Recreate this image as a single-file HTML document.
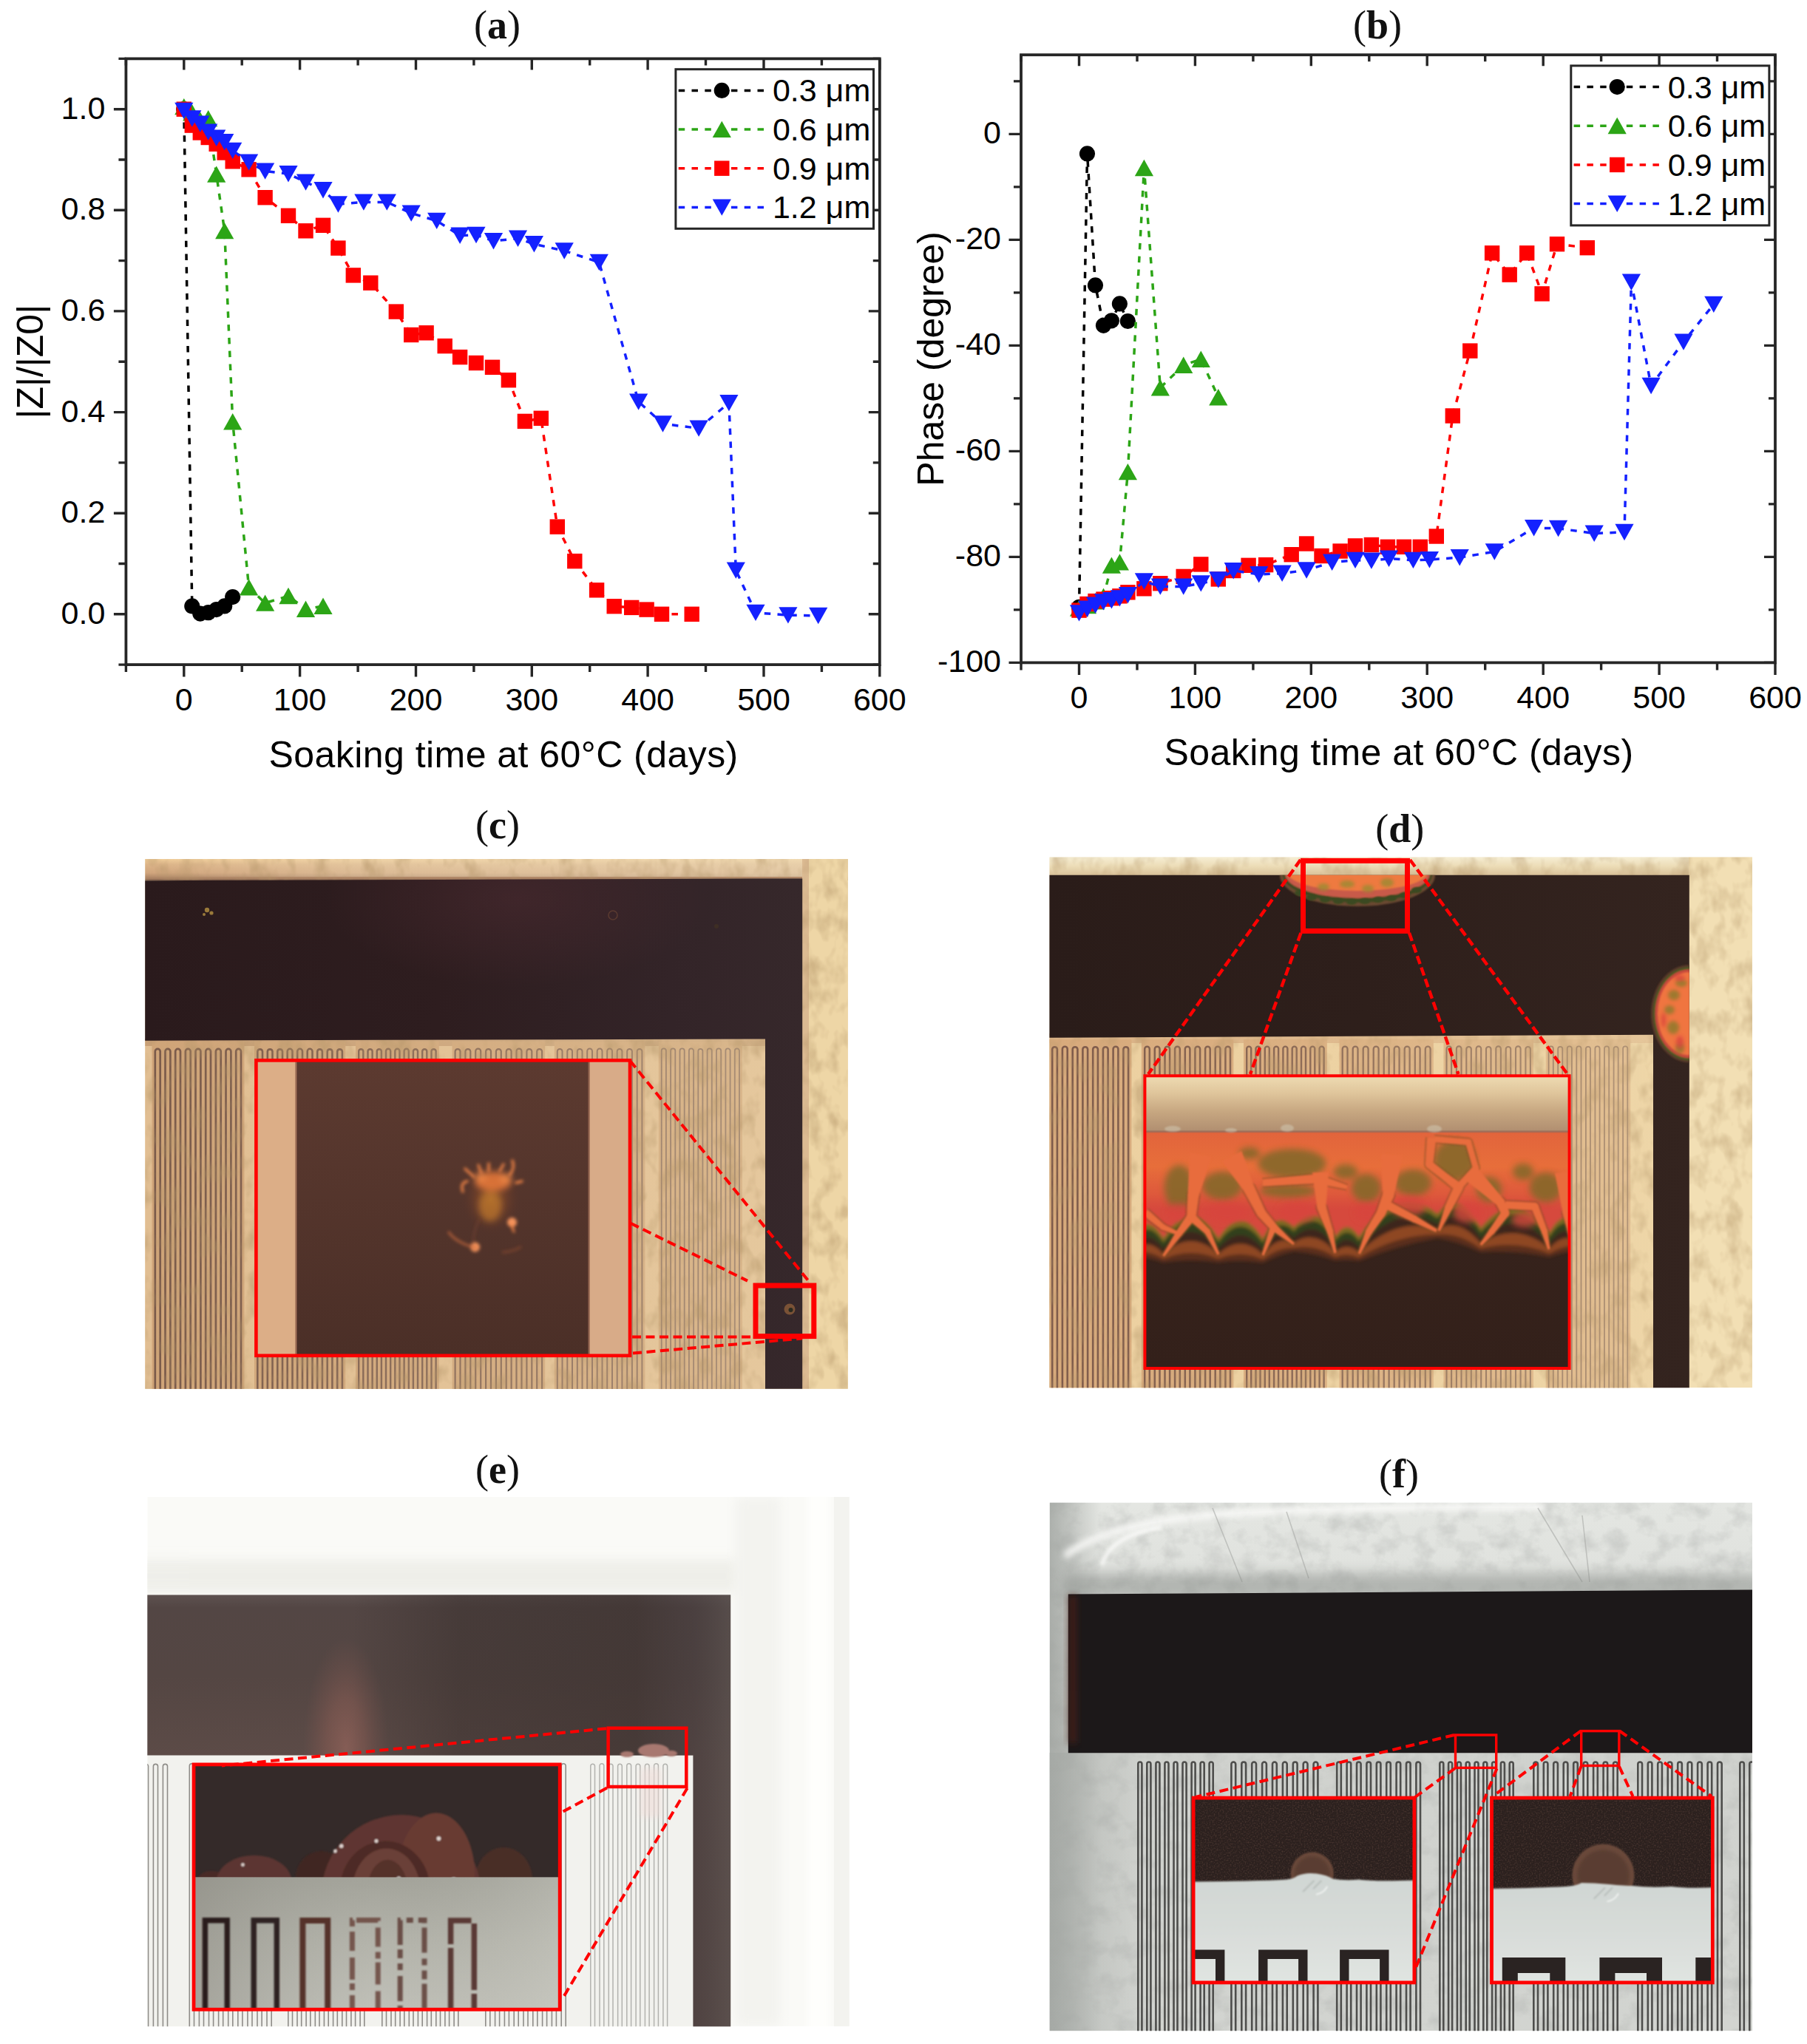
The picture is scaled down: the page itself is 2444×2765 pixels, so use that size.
<!DOCTYPE html>
<html lang="en"><head><meta charset="utf-8"><title>Figure</title>
<style>html,body{margin:0;padding:0;background:#fff}svg{display:block}</style></head>
<body>
<svg xmlns="http://www.w3.org/2000/svg" width="2444" height="2765" viewBox="0 0 2444 2765">
<rect width="2444" height="2765" fill="#fff"/>
<defs><filter id="streak" x="0" y="0" width="100%" height="100%"><feTurbulence type="fractalNoise" baseFrequency="0.045 0.03" numOctaves="3" seed="3" result="n"/><feColorMatrix in="n" type="matrix" values="0 0 0 0 0.45  0 0 0 0 0.30  0 0 0 0 0.14  0 0 0 -2.4 1.35"/><feComposite operator="in" in2="SourceGraphic"/></filter><filter id="marble" x="0" y="0" width="100%" height="100%"><feTurbulence type="fractalNoise" baseFrequency="0.035 0.04" numOctaves="4" seed="11" result="n"/><feColorMatrix in="n" type="matrix" values="0 0 0 0 0.35  0 0 0 0 0.36  0 0 0 0 0.35  0 0 0 -2.4 1.35"/><feComposite operator="in" in2="SourceGraphic"/></filter><filter id="grain" x="0" y="0" width="100%" height="100%"><feTurbulence type="fractalNoise" baseFrequency="0.5" numOctaves="2" seed="5" result="n"/><feColorMatrix in="n" type="matrix" values="0 0 0 0 0.5  0 0 0 0 0.25  0 0 0 0 0.18  0 0 0 -2.2 1.25"/><feComposite operator="in" in2="SourceGraphic"/></filter><filter id="b2" x="-50%" y="-50%" width="200%" height="200%"><feGaussianBlur stdDeviation="2"/></filter><filter id="b4" x="-50%" y="-50%" width="200%" height="200%"><feGaussianBlur stdDeviation="4"/></filter><filter id="b8" x="-50%" y="-50%" width="200%" height="200%"><feGaussianBlur stdDeviation="8"/></filter><filter id="b20" x="-50%" y="-50%" width="200%" height="200%"><feGaussianBlur stdDeviation="20"/></filter><filter id="b1" x="-50%" y="-50%" width="200%" height="200%"><feGaussianBlur stdDeviation="1.1"/></filter><linearGradient id="gcdark" x1="0" x2="1" y1="0" y2="0"><stop offset="0" stop-color="#2a1a1c"/><stop offset="0.45" stop-color="#2e1d1f"/><stop offset="0.8" stop-color="#332428"/><stop offset="1" stop-color="#36282b"/></linearGradient><linearGradient id="gctop" x1="0" x2="0" y1="0" y2="1"><stop offset="0" stop-color="#f0cc98"/><stop offset="0.25" stop-color="#dcb488"/><stop offset="0.65" stop-color="#d0a47c"/><stop offset="0.92" stop-color="#a88062"/><stop offset="1" stop-color="#7a5a48"/></linearGradient><linearGradient id="gctop2" x1="0" x2="1" y1="0" y2="0"><stop offset="0" stop-color="#f0e2c2" stop-opacity="0"/><stop offset="0.3" stop-color="#f0e2c2" stop-opacity="0.35"/><stop offset="1" stop-color="#f0e2c2" stop-opacity="0.6"/></linearGradient><linearGradient id="gdtop" x1="0" x2="0" y1="0" y2="1"><stop offset="0" stop-color="#f6eed4"/><stop offset="0.5" stop-color="#ecdcb6"/><stop offset="1" stop-color="#d8c098"/></linearGradient><radialGradient id="gcglow2" cx="0.5" cy="0.5" r="0.5"><stop offset="0" stop-color="#4a2a30" stop-opacity="0.6"/><stop offset="1" stop-color="#4a2a30" stop-opacity="0"/></radialGradient><linearGradient id="gclite" x1="0" x2="1" y1="0" y2="0"><stop offset="0" stop-color="#ecd8b0" stop-opacity="0"/><stop offset="0.35" stop-color="#ecd8b0" stop-opacity="0.12"/><stop offset="1" stop-color="#ecd8b0" stop-opacity="0.36"/></linearGradient><linearGradient id="gdlite" x1="0" x2="1" y1="0" y2="0"><stop offset="0" stop-color="#f0dcb0" stop-opacity="0"/><stop offset="0.4" stop-color="#f0dcb0" stop-opacity="0.12"/><stop offset="1" stop-color="#f0dcb0" stop-opacity="0.45"/></linearGradient><linearGradient id="gcin" x1="0" x2="0" y1="0" y2="1"><stop offset="0" stop-color="#5c3a30"/><stop offset="1" stop-color="#4b2f27"/></linearGradient><radialGradient id="gcglow" cx="0.5" cy="0.5" r="0.5"><stop offset="0" stop-color="#b8742c" stop-opacity="0.9"/><stop offset="0.5" stop-color="#8a4a28" stop-opacity="0.45"/><stop offset="1" stop-color="#5a3228" stop-opacity="0"/></radialGradient><linearGradient id="gddark" x1="0" x2="1" y1="0" y2="0"><stop offset="0" stop-color="#2a1c19"/><stop offset="0.5" stop-color="#2e1f1b"/><stop offset="1" stop-color="#34241f"/></linearGradient><linearGradient id="gdband" x1="0" x2="0" y1="0" y2="1"><stop offset="0" stop-color="#eedbb2"/><stop offset="0.3" stop-color="#e0c69c"/><stop offset="0.65" stop-color="#c6a680"/><stop offset="1" stop-color="#b08e70"/></linearGradient><linearGradient id="gdor" x1="0" x2="0" y1="0" y2="1"><stop offset="0" stop-color="#e2683c"/><stop offset="0.28" stop-color="#e8703a"/><stop offset="0.5" stop-color="#dd5a44"/><stop offset="0.68" stop-color="#d4504c"/><stop offset="0.80" stop-color="#6a6a28"/><stop offset="0.87" stop-color="#5a3a24"/><stop offset="0.93" stop-color="#b0602a"/><stop offset="1" stop-color="#7a4a24"/></linearGradient><linearGradient id="gdor2" x1="0" x2="0" y1="0" y2="1"><stop offset="0" stop-color="#e2643c"/><stop offset="0.45" stop-color="#e8703a" stop-opacity="0.95"/><stop offset="0.8" stop-color="#e66a3a" stop-opacity="0.5"/><stop offset="1" stop-color="#e0603a" stop-opacity="0"/></linearGradient><linearGradient id="gdbot" x1="0" x2="0" y1="0" y2="1"><stop offset="0" stop-color="#3a261e"/><stop offset="1" stop-color="#33201a"/></linearGradient><radialGradient id="gdblob" cx="0.5" cy="0.5" r="0.5"><stop offset="0" stop-color="#e8683a"/><stop offset="0.6" stop-color="#e06a3c"/><stop offset="0.8" stop-color="#b8a040"/><stop offset="0.92" stop-color="#6a8a50"/><stop offset="1" stop-color="#8a5a30"/></radialGradient><linearGradient id="gedark" gradientUnits="userSpaceOnUse" x1="0" x2="0" y1="2157" y2="2376"><stop offset="0" stop-color="#62555280"/><stop offset="0" stop-color="#5e5250"/><stop offset="0.08" stop-color="#534644"/><stop offset="0.5" stop-color="#544643"/><stop offset="1" stop-color="#5c4b47"/></linearGradient><linearGradient id="gedarkr" gradientUnits="userSpaceOnUse" x1="190" x2="988" y1="0" y2="0"><stop offset="0" stop-color="#3a302e" stop-opacity="0"/><stop offset="0.36" stop-color="#3a302e" stop-opacity="0"/><stop offset="0.54" stop-color="#3a302e" stop-opacity="0.5"/><stop offset="0.84" stop-color="#3a302e" stop-opacity="0.62"/><stop offset="0.936" stop-color="#40383a" stop-opacity="0.45"/><stop offset="1" stop-color="#5a5250" stop-opacity="0.6"/></linearGradient><radialGradient id="geglow" cx="0.5" cy="0.5" r="0.5"><stop offset="0" stop-color="#8c6058" stop-opacity="0.85"/><stop offset="0.45" stop-color="#845a52" stop-opacity="0.6"/><stop offset="1" stop-color="#7a544e" stop-opacity="0"/></radialGradient><linearGradient id="gegrey" x1="0" x2="0" y1="0" y2="1"><stop offset="0" stop-color="#a3a39a"/><stop offset="0.5" stop-color="#b4b4ab"/><stop offset="1" stop-color="#c0c0b8"/></linearGradient><linearGradient id="gegrey2" x1="0" x2="1" y1="0" y2="0"><stop offset="0" stop-color="#8a8880" stop-opacity="0.5"/><stop offset="0.5" stop-color="#a0a098" stop-opacity="0"/><stop offset="1" stop-color="#d0d0c8" stop-opacity="0.35"/></linearGradient><linearGradient id="gebar" x1="0" x2="1" y1="0" y2="0"><stop offset="0" stop-color="#4a403e"/><stop offset="1" stop-color="#5c5452"/></linearGradient><linearGradient id="gfbg" x1="0" x2="0" y1="0" y2="1"><stop offset="0" stop-color="#e4e6e2"/><stop offset="0.15" stop-color="#dfe1dd"/><stop offset="0.3" stop-color="#cfd1cd"/><stop offset="1" stop-color="#d2d4d0"/></linearGradient><linearGradient id="gfleft" x1="0" x2="1" y1="0" y2="0"><stop offset="0" stop-color="#9a9e9a" stop-opacity="0.75"/><stop offset="1" stop-color="#9a9e9a" stop-opacity="0"/></linearGradient><linearGradient id="gfleft2" gradientUnits="userSpaceOnUse" x1="1420" x2="1550" y1="0" y2="0"><stop offset="0" stop-color="#a4a8a4" stop-opacity="0.6"/><stop offset="1" stop-color="#a4a8a4" stop-opacity="0"/></linearGradient><linearGradient id="gfw" x1="0" x2="0" y1="0" y2="1"><stop offset="0" stop-color="#d0d6d3"/><stop offset="0.5" stop-color="#d8dcd9"/><stop offset="1" stop-color="#e1e5e2"/></linearGradient></defs><clipPath id="cc"><rect x="196.2" y="1162.0" width="950.6" height="716.8"/></clipPath><g clip-path="url(#cc)"><rect x="196.2" y="1162.0" width="950.6" height="716.8" fill="#ecd4a4"/><rect x="196.2" y="1162.0" width="950.6" height="29" fill="url(#gctop)"/><rect x="196.2" y="1162.0" width="950.6" height="24" fill="url(#gctop2)"/><rect x="1085" y="1162.0" width="62" height="716.8" fill="#eed6a6"/><rect x="1085" y="1162.0" width="9" height="716.8" fill="#cfa686" opacity="0.6"/><rect x="196.2" y="1405" width="840" height="475" fill="#e1be92"/><rect x="196.2" y="1405" width="840" height="10" fill="#c9a077"/><rect x="205.5" y="1409" width="124.9" height="472" fill="#cfa478"/><rect x="344.0" y="1409" width="123.2" height="472" fill="#cfa478"/><rect x="481.0" y="1409" width="112.8" height="472" fill="#cfa478"/><rect x="611.5" y="1409" width="125.7" height="472" fill="#cfa478"/><rect x="749.8" y="1409" width="122.6" height="472" fill="#cfa478"/><rect x="890.8" y="1409" width="113.1" height="472" fill="#cfa478"/><path d="M209.8 1880V1422.3A3.4 3.4 0 0 1 216.7 1422.3V1880M223.5 1880V1422.3A3.4 3.4 0 0 1 230.4 1422.3V1880M237.2 1880V1422.3A3.4 3.4 0 0 1 244.0 1422.3V1880M250.9 1880V1422.3A3.4 3.4 0 0 1 257.7 1422.3V1880M264.5 1880V1422.3A3.4 3.4 0 0 1 271.4 1422.3V1880M278.2 1880V1422.3A3.4 3.4 0 0 1 285.0 1422.3V1880M291.9 1880V1422.3A3.4 3.4 0 0 1 298.7 1422.3V1880M305.5 1880V1422.3A3.4 3.4 0 0 1 312.4 1422.3V1880M319.2 1880V1422.3A3.4 3.4 0 0 1 326.0 1422.3V1880" fill="none" stroke="#7a5a4a" stroke-width="2.7"/><path d="M348.3 1880V1422.2A3.4 3.4 0 0 1 355.0 1422.2V1880M361.8 1880V1422.2A3.4 3.4 0 0 1 368.5 1422.2V1880M375.3 1880V1422.2A3.4 3.4 0 0 1 382.0 1422.2V1880M388.7 1880V1422.2A3.4 3.4 0 0 1 395.5 1422.2V1880M402.2 1880V1422.2A3.4 3.4 0 0 1 409.0 1422.2V1880M415.7 1880V1422.2A3.4 3.4 0 0 1 422.5 1422.2V1880M429.2 1880V1422.2A3.4 3.4 0 0 1 435.9 1422.2V1880M442.7 1880V1422.2A3.4 3.4 0 0 1 449.4 1422.2V1880M456.2 1880V1422.2A3.4 3.4 0 0 1 462.9 1422.2V1880" fill="none" stroke="#7a5a4a" stroke-width="2.6"/><path d="M485.2 1880V1421.8A3.1 3.1 0 0 1 491.3 1421.8V1880M497.5 1880V1421.8A3.1 3.1 0 0 1 503.6 1421.8V1880M509.8 1880V1421.8A3.1 3.1 0 0 1 515.9 1421.8V1880M522.0 1880V1421.8A3.1 3.1 0 0 1 528.2 1421.8V1880M534.3 1880V1421.8A3.1 3.1 0 0 1 540.5 1421.8V1880M546.6 1880V1421.8A3.1 3.1 0 0 1 552.8 1421.8V1880M558.9 1880V1421.8A3.1 3.1 0 0 1 565.0 1421.8V1880M571.2 1880V1421.8A3.1 3.1 0 0 1 577.3 1421.8V1880M583.5 1880V1421.8A3.1 3.1 0 0 1 589.6 1421.8V1880" fill="none" stroke="#7c5c4c" stroke-width="2.4"/><path d="M615.6 1880V1422.1A3.5 3.5 0 0 1 622.5 1422.1V1880M629.4 1880V1422.1A3.5 3.5 0 0 1 636.3 1422.1V1880M643.2 1880V1422.1A3.5 3.5 0 0 1 650.2 1422.1V1880M657.1 1880V1422.1A3.5 3.5 0 0 1 664.0 1422.1V1880M670.9 1880V1422.1A3.5 3.5 0 0 1 677.8 1422.1V1880M684.7 1880V1422.1A3.5 3.5 0 0 1 691.6 1422.1V1880M698.5 1880V1422.1A3.5 3.5 0 0 1 705.5 1422.1V1880M712.4 1880V1422.1A3.5 3.5 0 0 1 719.3 1422.1V1880M726.2 1880V1422.1A3.5 3.5 0 0 1 733.1 1422.1V1880" fill="none" stroke="#7e5e4e" stroke-width="2.2"/><path d="M753.8 1880V1421.9A3.4 3.4 0 0 1 760.5 1421.9V1880M767.3 1880V1421.9A3.4 3.4 0 0 1 774.0 1421.9V1880M780.8 1880V1421.9A3.4 3.4 0 0 1 787.5 1421.9V1880M794.2 1880V1421.9A3.4 3.4 0 0 1 801.0 1421.9V1880M807.7 1880V1421.9A3.4 3.4 0 0 1 814.5 1421.9V1880M821.2 1880V1421.9A3.4 3.4 0 0 1 828.0 1421.9V1880M834.7 1880V1421.9A3.4 3.4 0 0 1 841.4 1421.9V1880M848.2 1880V1421.9A3.4 3.4 0 0 1 854.9 1421.9V1880M861.7 1880V1421.9A3.4 3.4 0 0 1 868.4 1421.9V1880" fill="none" stroke="#806052" stroke-width="2.0"/><path d="M894.7 1880V1421.5A3.1 3.1 0 0 1 900.9 1421.5V1880M907.1 1880V1421.5A3.1 3.1 0 0 1 913.3 1421.5V1880M919.5 1880V1421.5A3.1 3.1 0 0 1 925.7 1421.5V1880M931.9 1880V1421.5A3.1 3.1 0 0 1 938.1 1421.5V1880M944.3 1880V1421.5A3.1 3.1 0 0 1 950.4 1421.5V1880M956.6 1880V1421.5A3.1 3.1 0 0 1 962.8 1421.5V1880M969.0 1880V1421.5A3.1 3.1 0 0 1 975.2 1421.5V1880M981.4 1880V1421.5A3.1 3.1 0 0 1 987.6 1421.5V1880M993.8 1880V1421.5A3.1 3.1 0 0 1 1000.0 1421.5V1880" fill="none" stroke="#826456" stroke-width="1.8"/><rect x="196.2" y="1405" width="840" height="475" fill="url(#gclite)"/><rect x="196.2" y="1162.0" width="950.6" height="716.8" fill="#000" filter="url(#streak)" opacity="0.5"/><path d="M190 1191.2L1085.2 1188.4V1885H1035V1405.4L190 1407.7Z" fill="url(#gcdark)"/><ellipse cx="700" cy="1215" rx="260" ry="120" fill="url(#gcglow2)" clip-path="url(#ccdk)"/><clipPath id="ccdk"><path d="M190 1191.2L1085.2 1188.4V1885H1035V1405.4L190 1407.7Z"/></clipPath><g fill="#9a7a3a"><circle cx="280" cy="1231" r="3.2"/><circle cx="286" cy="1235" r="2.6"/><circle cx="276" cy="1237" r="2"/></g><circle cx="829" cy="1238" r="6" fill="none" stroke="#5a3a30" stroke-width="1.6"/><circle cx="969" cy="1253" r="3" fill="#3e2e24"/><rect x="346.4" y="1434.4" width="505.6" height="399.4" fill="url(#gcin)"/><rect x="346.4" y="1434.4" width="54.5" height="399.4" fill="#dcae87"/><rect x="796.5" y="1434.4" width="55.5" height="399.4" fill="#d8ab88"/><rect x="399" y="1434.4" width="3" height="399.4" fill="#8a5a48" opacity="0.6"/><rect x="795" y="1434.4" width="3" height="399.4" fill="#8a5a48" opacity="0.6"/><ellipse cx="664" cy="1622" rx="40" ry="48" fill="url(#gcglow)"/><g filter="url(#b4)"><ellipse cx="667" cy="1598" rx="25" ry="13" fill="#ea7a3a" opacity="0.85"/><ellipse cx="650" cy="1592" rx="8" ry="6" fill="#f08a4a" opacity="0.8"/><ellipse cx="684" cy="1594" rx="8" ry="6" fill="#f08a4a" opacity="0.8"/><ellipse cx="663" cy="1632" rx="15" ry="20" fill="#b4702c" opacity="0.8"/></g><g filter="url(#b2)" fill="none" stroke-linecap="round" stroke="#ee8244" stroke-width="3.4"><path d="M641 1592l-12-11M651 1587l-4-11M661 1584l0-10M676 1584l5-9M689 1590q8-10 4-20M632 1598q-10 2-6 14M698 1600l8-2"/><circle cx="692.5" cy="1653.5" r="6.5" fill="#f4925a" stroke="none"/><path d="M692 1658l3 8" stroke-width="3"/><circle cx="642.5" cy="1687" r="6.5" fill="#f4925a" stroke="none"/><path d="M607 1667q10 14 36 21" stroke="#c8683c" stroke-width="3" opacity="0.85"/><path d="M680 1694q14-1 24-7" stroke="#8a4a30" stroke-width="3" opacity="0.7"/><path d="M648 1650q-8 16-8 32" stroke="#7a4430" stroke-width="2" opacity="0.7"/></g><rect x="346.4" y="1434.4" width="505.6" height="399.4" fill="none" stroke="#ff0000" stroke-width="4.6"/><circle cx="1068" cy="1771" r="7.5" fill="#7a5236"/><circle cx="1069.5" cy="1772" r="3" fill="#2a2a20"/><rect x="1022.0" y="1739.0" width="78.8" height="68.6" fill="none" stroke="#ff0000" stroke-width="7"/><path d="M852.0 1434.7L1092.5 1731.5" stroke="#ff0000" stroke-width="4.0" stroke-dasharray="12 6.5" fill="none"/><path d="M853.0 1654.8L1011.0 1732.6" stroke="#ff0000" stroke-width="4.0" stroke-dasharray="12 6.5" fill="none"/><path d="M855.0 1808.4L1020.0 1808.4" stroke="#ff0000" stroke-width="4.0" stroke-dasharray="12 6.5" fill="none"/><path d="M856.0 1830.5L1085.0 1810.5" stroke="#ff0000" stroke-width="4.0" stroke-dasharray="12 6.5" fill="none"/></g><clipPath id="cd"><rect x="1419.4" y="1159.4" width="950.6" height="717.8"/></clipPath><g clip-path="url(#cd)"><rect x="1419.4" y="1159.4" width="950.6" height="717.8" fill="#ecd9b0"/><rect x="1419.4" y="1159.4" width="950.6" height="25" fill="url(#gdtop)"/><rect x="2284" y="1159.4" width="86" height="717.8" fill="#f2dfb4"/><rect x="1419.4" y="1398" width="817" height="480" fill="#ecd0a0"/><rect x="1419.4" y="1398" width="817" height="13" fill="#dcb488"/><rect x="1418.9" y="1406" width="111.5" height="474" fill="#d8aa7c"/><rect x="1543.9" y="1406" width="124.4" height="474" fill="#d8aa7c"/><rect x="1682.0" y="1406" width="112.8" height="474" fill="#d8aa7c"/><rect x="1811.5" y="1406" width="127.3" height="474" fill="#d8aa7c"/><rect x="1952.5" y="1406" width="121.5" height="474" fill="#d8aa7c"/><rect x="2090.7" y="1406" width="114.5" height="474" fill="#d8aa7c"/><path d="M1423.2 1880V1419.1A3.4 3.4 0 0 1 1429.9 1419.1V1880M1436.9 1880V1419.1A3.4 3.4 0 0 1 1443.7 1419.1V1880M1450.7 1880V1419.1A3.4 3.4 0 0 1 1457.4 1419.1V1880M1464.4 1880V1419.1A3.4 3.4 0 0 1 1471.1 1419.1V1880M1478.2 1880V1419.1A3.4 3.4 0 0 1 1484.9 1419.1V1880M1491.9 1880V1419.1A3.4 3.4 0 0 1 1498.6 1419.1V1880M1505.6 1880V1419.1A3.4 3.4 0 0 1 1512.4 1419.1V1880M1519.4 1880V1419.1A3.4 3.4 0 0 1 1526.1 1419.1V1880" fill="none" stroke="#7e5a4a" stroke-width="2.6"/><path d="M1548.2 1880V1419.0A3.3 3.3 0 0 1 1554.8 1419.0V1880M1561.8 1880V1419.0A3.3 3.3 0 0 1 1568.5 1419.0V1880M1575.5 1880V1419.0A3.3 3.3 0 0 1 1582.1 1419.0V1880M1589.1 1880V1419.0A3.3 3.3 0 0 1 1595.8 1419.0V1880M1602.8 1880V1419.0A3.3 3.3 0 0 1 1609.4 1419.0V1880M1616.4 1880V1419.0A3.3 3.3 0 0 1 1623.1 1419.0V1880M1630.1 1880V1419.0A3.3 3.3 0 0 1 1636.7 1419.0V1880M1643.7 1880V1419.0A3.3 3.3 0 0 1 1650.4 1419.0V1880M1657.4 1880V1419.0A3.3 3.3 0 0 1 1664.0 1419.0V1880" fill="none" stroke="#7e5a4a" stroke-width="2.5"/><path d="M1686.2 1880V1418.6A3.0 3.0 0 0 1 1692.2 1418.6V1880M1698.5 1880V1418.6A3.0 3.0 0 0 1 1704.5 1418.6V1880M1710.8 1880V1418.6A3.0 3.0 0 0 1 1716.8 1418.6V1880M1723.1 1880V1418.6A3.0 3.0 0 0 1 1729.1 1418.6V1880M1735.4 1880V1418.6A3.0 3.0 0 0 1 1741.4 1418.6V1880M1747.7 1880V1418.6A3.0 3.0 0 0 1 1753.7 1418.6V1880M1760.0 1880V1418.6A3.0 3.0 0 0 1 1766.0 1418.6V1880M1772.3 1880V1418.6A3.0 3.0 0 0 1 1778.3 1418.6V1880M1784.6 1880V1418.6A3.0 3.0 0 0 1 1790.6 1418.6V1880" fill="none" stroke="#7e5a4a" stroke-width="2.4"/><path d="M1815.7 1880V1419.0A3.4 3.4 0 0 1 1822.5 1419.0V1880M1829.7 1880V1419.0A3.4 3.4 0 0 1 1836.5 1419.0V1880M1843.7 1880V1419.0A3.4 3.4 0 0 1 1850.6 1419.0V1880M1857.7 1880V1419.0A3.4 3.4 0 0 1 1864.6 1419.0V1880M1871.7 1880V1419.0A3.4 3.4 0 0 1 1878.6 1419.0V1880M1885.7 1880V1419.0A3.4 3.4 0 0 1 1892.6 1419.0V1880M1899.7 1880V1419.0A3.4 3.4 0 0 1 1906.6 1419.0V1880M1913.8 1880V1419.0A3.4 3.4 0 0 1 1920.6 1419.0V1880M1927.8 1880V1419.0A3.4 3.4 0 0 1 1934.6 1419.0V1880" fill="none" stroke="#7e5a4a" stroke-width="2.3"/><path d="M1956.5 1880V1418.7A3.3 3.3 0 0 1 1963.1 1418.7V1880M1969.9 1880V1418.7A3.3 3.3 0 0 1 1976.5 1418.7V1880M1983.3 1880V1418.7A3.3 3.3 0 0 1 1989.8 1418.7V1880M1996.6 1880V1418.7A3.3 3.3 0 0 1 2003.2 1418.7V1880M2010.0 1880V1418.7A3.3 3.3 0 0 1 2016.5 1418.7V1880M2023.3 1880V1418.7A3.3 3.3 0 0 1 2029.9 1418.7V1880M2036.7 1880V1418.7A3.3 3.3 0 0 1 2043.2 1418.7V1880M2050.0 1880V1418.7A3.3 3.3 0 0 1 2056.6 1418.7V1880M2063.4 1880V1418.7A3.3 3.3 0 0 1 2069.9 1418.7V1880" fill="none" stroke="#7e5a4a" stroke-width="2.1"/><path d="M2094.6 1880V1418.4A3.1 3.1 0 0 1 2100.8 1418.4V1880M2107.2 1880V1418.4A3.1 3.1 0 0 1 2113.3 1418.4V1880M2119.7 1880V1418.4A3.1 3.1 0 0 1 2125.9 1418.4V1880M2132.3 1880V1418.4A3.1 3.1 0 0 1 2138.5 1418.4V1880M2144.9 1880V1418.4A3.1 3.1 0 0 1 2151.0 1418.4V1880M2157.4 1880V1418.4A3.1 3.1 0 0 1 2163.6 1418.4V1880M2170.0 1880V1418.4A3.1 3.1 0 0 1 2176.2 1418.4V1880M2182.6 1880V1418.4A3.1 3.1 0 0 1 2188.7 1418.4V1880M2195.1 1880V1418.4A3.1 3.1 0 0 1 2201.3 1418.4V1880" fill="none" stroke="#7e5a4a" stroke-width="1.8"/><rect x="1419.4" y="1398" width="817" height="480" fill="url(#gdlite)"/><rect x="1419.4" y="1159.4" width="950.6" height="717.8" fill="#000" filter="url(#streak)" opacity="0.45"/><path d="M1410 1183.8H2284.8V1885H2236V1399.8L1410 1403.7Z" fill="url(#gddark)"/><clipPath id="cdt"><rect x="1700" y="1183.8" width="280" height="60"/></clipPath><g clip-path="url(#cdt)"><g filter="url(#b1)"><ellipse cx="1836" cy="1184" rx="105" ry="42" fill="#6a4a30"/><ellipse cx="1836" cy="1183" rx="101" ry="38" fill="#3c4a22"/><ellipse cx="1836" cy="1182" rx="98" ry="33" fill="#c85a48"/><ellipse cx="1836" cy="1180" rx="95" ry="25" fill="#ee7a40"/></g><g filter="url(#b1)" fill="#3a4a20"><ellipse cx="1758" cy="1208" rx="7" ry="4"/><ellipse cx="1774" cy="1214" rx="7" ry="4"/><ellipse cx="1792" cy="1217" rx="7" ry="4"/><ellipse cx="1810" cy="1219" rx="7" ry="4"/><ellipse cx="1828" cy="1220" rx="7" ry="4"/><ellipse cx="1846" cy="1219" rx="7" ry="4"/><ellipse cx="1864" cy="1217" rx="7" ry="4"/><ellipse cx="1882" cy="1215" rx="7" ry="4"/><ellipse cx="1900" cy="1211" rx="7" ry="4"/><ellipse cx="1916" cy="1204" rx="7" ry="4"/></g><g filter="url(#b2)" fill="#9a8a30" opacity="0.8"><ellipse cx="1790" cy="1200" rx="8" ry="5"/><ellipse cx="1822" cy="1196" rx="10" ry="5"/><ellipse cx="1850" cy="1202" rx="8" ry="5"/><ellipse cx="1876" cy="1194" rx="9" ry="6"/></g></g><clipPath id="cdb"><rect x="2200" y="1280" width="84.8" height="180"/></clipPath><g clip-path="url(#cdb)" filter="url(#b1)"><ellipse cx="2285" cy="1371.2" rx="52" ry="66" fill="#5a3a2a"/><ellipse cx="2285" cy="1371.2" rx="49" ry="63" fill="#4a5a24"/><ellipse cx="2285" cy="1371.2" rx="46.5" ry="60" fill="#c84a3c"/><ellipse cx="2285" cy="1371.2" rx="43" ry="56" fill="#f07440"/><g fill="#8a7a2c" opacity="0.8" filter="url(#b2)"><ellipse cx="2264" cy="1346" rx="8" ry="7"/><ellipse cx="2258" cy="1366" rx="7" ry="6"/><ellipse cx="2263" cy="1390" rx="8" ry="9"/><ellipse cx="2274" cy="1330" rx="8" ry="5"/><ellipse cx="2272" cy="1418" rx="6" ry="7"/></g><g fill="#d8443c" opacity="0.8" filter="url(#b2)"><ellipse cx="2272" cy="1323" rx="7" ry="4"/><ellipse cx="2272" cy="1410" rx="5" ry="9"/><ellipse cx="2250" cy="1380" rx="3" ry="10"/></g></g><clipPath id="cdi"><rect x="1548.4" y="1455.3" width="574.2" height="395.7"/></clipPath><g clip-path="url(#cdi)"><rect x="1548.4" y="1455.3" width="574.2" height="395.7" fill="url(#gdbot)"/><g filter="url(#b2)"><path d="M1536 1530.8V1700.0Q1554.8 1701.0 1573.5 1708.0Q1610.8 1702.0 1648.0 1708.0Q1678.0 1703.5 1708.0 1708.5Q1729.0 1697.4 1750.0 1693.0Q1778.0 1694.8 1806.0 1705.5Q1822.0 1703.2 1838.0 1706.0Q1891.0 1684.5 1944.0 1675.0Q1973.3 1679.8 2002.7 1694.0Q2049.1 1691.2 2095.5 1700.5Q2115.8 1693.0 2136.0 1692.0V1530.8Z" fill="#5a2e1c"/><path d="M1536 1530.8V1695.0Q1554.8 1691.0 1573.5 1703.0Q1610.8 1687.1 1648.0 1703.0Q1678.0 1690.5 1708.0 1703.5Q1729.0 1686.8 1750.0 1688.0Q1778.0 1682.3 1806.0 1700.5Q1822.0 1693.9 1838.0 1701.0Q1891.0 1669.5 1944.0 1670.0Q1973.3 1667.0 2002.7 1689.0Q2049.1 1676.2 2095.5 1695.5Q2115.8 1682.6 2136.0 1687.0V1530.8Z" fill="#8e4622"/><path d="M1536 1530.8V1688.0Q1554.8 1675.0 1573.5 1696.0Q1610.8 1662.2 1648.0 1696.0Q1678.0 1669.0 1708.0 1696.5Q1729.0 1669.7 1750.0 1681.0Q1778.0 1661.9 1806.0 1693.5Q1822.0 1679.2 1838.0 1694.0Q1891.0 1644.5 1944.0 1663.0Q1973.3 1645.9 2002.7 1682.0Q2049.1 1651.2 2095.5 1688.5Q2115.8 1665.9 2136.0 1680.0V1530.8Z" fill="#3e281e"/><path d="M1536 1530.8V1681.0Q1554.8 1662.0 1573.5 1689.0Q1610.8 1643.3 1648.0 1689.0Q1678.0 1652.5 1708.0 1689.5Q1729.0 1656.0 1750.0 1674.0Q1778.0 1645.9 1806.0 1686.5Q1822.0 1667.1 1838.0 1687.0Q1891.0 1625.5 1944.0 1656.0Q1973.3 1629.5 2002.7 1675.0Q2049.1 1632.2 2095.5 1681.5Q2115.8 1652.4 2136.0 1673.0V1530.8Z" fill="#32401a"/><path d="M1536 1530.8V1673.0Q1554.8 1650.0 1573.5 1681.0Q1610.8 1627.4 1648.0 1681.0Q1678.0 1638.0 1708.0 1681.5Q1729.0 1643.5 1750.0 1666.0Q1778.0 1631.9 1806.0 1678.5Q1822.0 1655.7 1838.0 1679.0Q1891.0 1609.5 1944.0 1648.0Q1973.3 1615.2 2002.7 1667.0Q2049.1 1616.2 2095.5 1673.5Q2115.8 1640.1 2136.0 1665.0V1530.8Z" fill="#7a6a22"/><path d="M1536 1530.8V1667.0Q1554.8 1641.0 1573.5 1675.0Q1610.8 1615.4 1648.0 1675.0Q1678.0 1627.2 1708.0 1675.5Q1729.0 1634.2 1750.0 1660.0Q1778.0 1621.5 1806.0 1672.5Q1822.0 1647.2 1838.0 1673.0Q1891.0 1597.5 1944.0 1642.0Q1973.3 1604.5 2002.7 1661.0Q2049.1 1604.2 2095.5 1667.5Q2115.8 1630.8 2136.0 1659.0V1530.8Z" fill="#d6483c"/></g><rect x="1548.4" y="1530.8" width="574.2" height="105" fill="url(#gdor2)"/><g filter="url(#b4)" fill="#86682a" opacity="0.9"><ellipse cx="1594.8" cy="1606" rx="20" ry="30"/><ellipse cx="1653" cy="1604" rx="27" ry="19"/><ellipse cx="1747.5" cy="1574" rx="46" ry="20"/><ellipse cx="1742" cy="1611" rx="38" ry="9"/><ellipse cx="1848" cy="1607" rx="20" ry="19"/><ellipse cx="1911" cy="1600" rx="25" ry="18"/><ellipse cx="1967" cy="1570" rx="28" ry="28"/><ellipse cx="2014" cy="1609" rx="17" ry="17"/><ellipse cx="2090.7" cy="1606" rx="22" ry="20"/><ellipse cx="1690" cy="1560" rx="14" ry="8"/><ellipse cx="2060" cy="1585" rx="14" ry="11"/><ellipse cx="1820" cy="1585" rx="16" ry="10"/></g><g filter="url(#b4)" fill="#d8443c" opacity="0.8"><ellipse cx="1594" cy="1640" rx="16" ry="12"/><ellipse cx="1660" cy="1640" rx="30" ry="13"/><ellipse cx="1755" cy="1640" rx="26" ry="14"/><ellipse cx="1848" cy="1640" rx="16" ry="12"/><ellipse cx="1905" cy="1632" rx="24" ry="14"/><ellipse cx="1985" cy="1640" rx="20" ry="14"/><ellipse cx="2062" cy="1650" rx="18" ry="10"/></g><g filter="url(#b1)"><g opacity="0.5"><g fill="#7a5026"><path d="M1604.3 1615.2L1603.2 1645.3L1619.6 1646.7L1623.7 1616.8Z"/><circle cx="1614.0" cy="1616.0" r="9.8"/><path d="M1604.8 1641.0L1589.4 1663.9L1600.2 1672.1L1618.0 1651.0Z"/><circle cx="1611.4" cy="1646.0" r="8.2"/><path d="M1589.2 1664.2L1570.4 1696.9L1576.6 1701.1L1600.4 1671.8Z"/><circle cx="1594.8" cy="1668.0" r="6.8"/></g><g fill="#7a5026"><path d="M1606.1 1651.7L1628.8 1670.6L1637.2 1661.4L1616.7 1640.3Z"/><path d="M1627.4 1668.7L1644.6 1698.6L1651.4 1695.4L1638.6 1663.3Z"/><circle cx="1633.0" cy="1666.0" r="6.2"/></g><g fill="#7a5026"><path d="M1544.4 1645.6L1569.3 1664.4L1576.7 1655.6L1553.6 1634.4Z"/><path d="M1570.8 1665.3L1590.2 1672.4L1593.8 1663.6L1575.2 1654.7Z"/><circle cx="1573.0" cy="1660.0" r="5.8"/></g><g fill="#7a5026"><path d="M1680.7 1612.4L1698.6 1644.7L1713.4 1637.3L1698.1 1603.6Z"/><circle cx="1689.4" cy="1608.0" r="9.8"/><path d="M1699.8 1646.4L1717.1 1664.8L1728.1 1655.2L1712.2 1635.6Z"/><circle cx="1706.0" cy="1641.0" r="8.2"/><path d="M1717.9 1665.6L1747.6 1685.9L1752.4 1680.1L1727.3 1654.4Z"/><circle cx="1722.6" cy="1660.0" r="7.2"/></g><g fill="#7a5026"><path d="M1716.3 1657.6L1704.5 1696.7L1711.5 1699.3L1728.9 1662.4Z"/></g><g fill="#7a5026"><path d="M1708.2 1606.7L1781.3 1602.8L1780.1 1586.4L1707.2 1593.3Z"/><path d="M1778.5 1602.6L1820.7 1610.6L1823.3 1601.4L1782.9 1586.6Z"/><circle cx="1780.7" cy="1594.6" r="8.2"/></g><g fill="#7a5026"><path d="M1779.6 1635.7L1793.1 1668.1L1804.9 1663.9L1795.2 1630.3Z"/><circle cx="1787.4" cy="1633.0" r="8.2"/><path d="M1792.9 1667.5L1802.4 1695.9L1809.6 1694.1L1805.1 1664.5Z"/><circle cx="1799.0" cy="1666.0" r="6.2"/></g><g fill="#7a5026"><path d="M1868.9 1612.4L1860.3 1637.9L1875.7 1644.1L1887.1 1619.6Z"/><circle cx="1878.0" cy="1616.0" r="9.8"/><path d="M1861.1 1636.5L1846.0 1662.3L1857.2 1669.7L1874.9 1645.5Z"/><circle cx="1868.0" cy="1641.0" r="8.2"/><path d="M1845.4 1663.3L1834.9 1694.5L1841.7 1697.5L1857.8 1668.7Z"/><circle cx="1851.6" cy="1666.0" r="6.8"/></g><g fill="#7a5026"><path d="M1872.5 1636.9L1909.9 1655.0L1916.1 1643.0L1879.5 1623.1Z"/><path d="M1909.8 1655.0L1941.0 1668.8L1945.0 1661.2L1916.2 1643.0Z"/><circle cx="1913.0" cy="1649.0" r="6.8"/></g><g fill="#7a5026"><path d="M1928.1 1538.2L1925.8 1574.3L1940.2 1575.7L1944.5 1539.8Z"/><path d="M1928.5 1580.7L1951.5 1598.7L1960.5 1587.3L1937.5 1569.3Z"/><circle cx="1933.0" cy="1575.0" r="7.2"/><path d="M1951.6 1598.7L1967.8 1612.5L1977.8 1599.5L1960.4 1587.3Z"/><circle cx="1956.0" cy="1593.0" r="7.2"/><path d="M1965.4 1602.4L1953.0 1629.8L1966.0 1636.2L1980.2 1609.6Z"/><circle cx="1972.8" cy="1606.0" r="8.2"/><path d="M1952.8 1630.2L1942.5 1663.5L1949.5 1666.5L1966.2 1635.8Z"/><circle cx="1959.5" cy="1633.0" r="7.2"/></g><g fill="#7a5026"><path d="M1939.5 1547.2L1985.5 1551.2L1986.5 1538.8L1940.5 1534.8Z"/><path d="M1980.0 1546.7L1990.0 1581.7L2002.0 1578.3L1992.0 1543.3Z"/><circle cx="1986.0" cy="1545.0" r="6.2"/><path d="M1991.3 1575.8L1967.8 1601.5L1977.8 1610.5L2000.7 1584.2Z"/><circle cx="1996.0" cy="1580.0" r="6.2"/></g><g fill="#7a5026"><path d="M2021.5 1629.5L2029.0 1644.3L2043.0 1637.7L2036.5 1622.5Z"/><circle cx="2029.0" cy="1626.0" r="8.2"/><path d="M2029.8 1636.4L2012.6 1662.3L2022.6 1669.7L2042.2 1645.6Z"/><circle cx="2036.0" cy="1641.0" r="7.8"/><path d="M2012.8 1662.0L1999.8 1681.6L2005.6 1686.4L2022.4 1670.0Z"/><circle cx="2017.6" cy="1666.0" r="6.2"/></g><g fill="#7a5026"><path d="M2035.6 1637.2L2075.3 1639.2L2076.1 1624.8L2036.4 1622.8Z"/><path d="M2068.9 1634.6L2083.2 1668.3L2094.8 1663.7L2082.5 1629.4Z"/><circle cx="2075.7" cy="1632.0" r="7.2"/><path d="M2082.9 1667.5L2091.4 1690.9L2098.6 1689.1L2095.1 1664.5Z"/><circle cx="2089.0" cy="1666.0" r="6.2"/></g><g fill="#7a5026"><path d="M2111.4 1641.3L2121.8 1680.8L2130.2 1679.2L2124.6 1638.7Z"/><circle cx="2118.0" cy="1640.0" r="6.8"/></g></g><g fill="#e86c3c"><path d="M1609.3 1559.3L1606.6 1614.6L1621.4 1617.4L1638.7 1564.7Z"/><path d="M1606.5 1615.4L1605.4 1645.5L1617.4 1646.5L1621.5 1616.6Z"/><circle cx="1614.0" cy="1616.0" r="7.5"/><path d="M1606.6 1642.4L1591.2 1665.3L1598.4 1670.7L1616.2 1649.6Z"/><circle cx="1611.4" cy="1646.0" r="6.0"/><path d="M1591.1 1665.5L1572.3 1698.2L1574.7 1699.8L1598.5 1670.5Z"/><circle cx="1594.8" cy="1668.0" r="4.5"/></g><g fill="#e86c3c"><path d="M1607.7 1650.0L1630.3 1668.9L1635.7 1663.1L1615.1 1642.0Z"/><path d="M1629.4 1667.7L1646.6 1697.7L1649.4 1696.3L1636.6 1664.3Z"/><circle cx="1633.0" cy="1666.0" r="4.0"/></g><g fill="#e86c3c"><path d="M1545.8 1643.8L1570.8 1662.7L1575.2 1657.3L1552.2 1636.2Z"/><path d="M1571.6 1663.2L1591.0 1670.3L1593.0 1665.7L1574.4 1656.8Z"/><circle cx="1573.0" cy="1660.0" r="3.5"/></g><g fill="#e86c3c"><path d="M1652.8 1571.0L1682.8 1611.5L1696.0 1604.5L1679.2 1557.0Z"/><path d="M1682.7 1611.4L1700.6 1643.7L1711.4 1638.3L1696.1 1604.6Z"/><circle cx="1689.4" cy="1608.0" r="7.5"/><path d="M1701.5 1644.9L1718.8 1663.3L1726.4 1656.7L1710.5 1637.1Z"/><circle cx="1706.0" cy="1641.0" r="6.0"/><path d="M1719.4 1663.8L1749.0 1684.1L1751.0 1681.9L1725.8 1656.2Z"/><circle cx="1722.6" cy="1660.0" r="5.0"/></g><g fill="#e86c3c"><path d="M1718.4 1658.4L1706.6 1697.5L1709.4 1698.5L1726.8 1661.6Z"/></g><g fill="#e86c3c"><path d="M1708.0 1604.5L1781.1 1600.6L1780.3 1588.6L1707.4 1595.5Z"/><path d="M1779.1 1600.4L1821.3 1608.4L1822.7 1603.6L1782.3 1588.8Z"/><circle cx="1780.7" cy="1594.6" r="6.0"/></g><g fill="#e86c3c"><path d="M1775.0 1586.3L1781.4 1633.2L1793.4 1632.8L1797.0 1585.7Z"/><path d="M1781.7 1635.0L1795.2 1667.3L1802.8 1664.7L1793.1 1631.0Z"/><circle cx="1787.4" cy="1633.0" r="6.0"/><path d="M1795.1 1666.9L1804.5 1695.4L1807.5 1694.6L1802.9 1665.1Z"/><circle cx="1799.0" cy="1666.0" r="4.0"/></g><g fill="#e86c3c"><path d="M1867.0 1560.9L1870.5 1615.4L1885.5 1616.6L1897.0 1563.1Z"/><path d="M1871.0 1613.2L1862.4 1638.8L1873.6 1643.2L1885.0 1618.8Z"/><circle cx="1878.0" cy="1616.0" r="7.5"/><path d="M1863.0 1637.7L1847.8 1663.5L1855.4 1668.5L1873.0 1644.3Z"/><circle cx="1868.0" cy="1641.0" r="6.0"/><path d="M1847.5 1664.2L1836.9 1695.4L1839.7 1696.6L1855.7 1667.8Z"/><circle cx="1851.6" cy="1666.0" r="4.5"/></g><g fill="#e86c3c"><path d="M1873.5 1634.9L1910.9 1653.0L1915.1 1645.0L1878.5 1625.1Z"/><path d="M1910.9 1653.0L1942.1 1666.8L1943.9 1663.2L1915.1 1645.0Z"/><circle cx="1913.0" cy="1649.0" r="4.5"/></g><g fill="#e86c3c"><path d="M1930.3 1538.5L1928.0 1574.5L1938.0 1575.5L1942.3 1539.5Z"/><path d="M1929.9 1578.9L1952.9 1596.9L1959.1 1589.1L1936.1 1571.1Z"/><circle cx="1933.0" cy="1575.0" r="5.0"/><path d="M1952.9 1597.0L1969.1 1610.7L1976.5 1601.3L1959.1 1589.0Z"/><circle cx="1956.0" cy="1593.0" r="5.0"/><path d="M1967.4 1603.3L1955.0 1630.8L1964.0 1635.2L1978.2 1608.7Z"/><circle cx="1972.8" cy="1606.0" r="6.0"/><path d="M1954.9 1631.1L1944.6 1664.4L1947.4 1665.6L1964.1 1634.9Z"/><circle cx="1959.5" cy="1633.0" r="5.0"/></g><g fill="#e86c3c"><path d="M1939.7 1545.0L1985.7 1549.0L1986.3 1541.0L1940.3 1537.0Z"/><path d="M1982.2 1546.1L1992.2 1581.1L1999.8 1578.9L1989.8 1543.9Z"/><circle cx="1986.0" cy="1545.0" r="4.0"/><path d="M1993.0 1577.3L1969.4 1603.0L1976.2 1609.0L1999.0 1582.7Z"/><circle cx="1996.0" cy="1580.0" r="4.0"/></g><g fill="#e86c3c"><path d="M1979.6 1594.6L2024.8 1630.3L2033.2 1621.7L1996.4 1577.4Z"/><path d="M2023.6 1628.5L2031.0 1643.3L2041.0 1638.7L2034.4 1623.5Z"/><circle cx="2029.0" cy="1626.0" r="6.0"/><path d="M2031.6 1637.7L2014.4 1663.6L2020.8 1668.4L2040.4 1644.3Z"/><circle cx="2036.0" cy="1641.0" r="5.5"/><path d="M2014.5 1663.4L2001.5 1683.0L2003.9 1685.0L2020.7 1668.6Z"/><circle cx="2017.6" cy="1666.0" r="4.0"/></g><g fill="#e86c3c"><path d="M2035.7 1635.0L2075.4 1637.0L2076.0 1627.0L2036.3 1625.0Z"/><path d="M2071.0 1633.8L2085.3 1667.5L2092.7 1664.5L2080.4 1630.2Z"/><circle cx="2075.7" cy="1632.0" r="5.0"/><path d="M2085.1 1667.0L2093.5 1690.4L2096.5 1689.6L2092.9 1665.0Z"/><circle cx="2089.0" cy="1666.0" r="4.0"/></g><g fill="#e86c3c"><path d="M2103.1 1587.0L2113.5 1640.5L2122.5 1639.5L2120.9 1585.0Z"/><path d="M2113.6 1640.9L2124.0 1680.4L2128.0 1679.6L2122.4 1639.1Z"/><circle cx="2118.0" cy="1640.0" r="4.5"/></g></g><rect x="1548.4" y="1455.3" width="574.2" height="75.5" fill="url(#gdband)"/><rect x="1548.4" y="1529.3" width="574.2" height="3" fill="#9a6a58" opacity="0.7"/><g fill="#d8d4c0" opacity="0.45" filter="url(#b1)"><ellipse cx="1741" cy="1526" rx="9" ry="5"/><ellipse cx="1940" cy="1527" rx="10" ry="5"/><ellipse cx="1586" cy="1527" rx="11" ry="4"/><ellipse cx="1665" cy="1529" rx="8" ry="3"/></g></g><rect x="1548.4" y="1455.3" width="574.2" height="395.7" fill="none" stroke="#ff0000" stroke-width="4"/><rect x="1762.5" y="1164.4" width="141.0" height="95.0" fill="none" stroke="#ff0000" stroke-width="7"/><path d="M1759.0 1163.0L1553.0 1453.0" stroke="#ff0000" stroke-width="4.4" stroke-dasharray="11.5 5" fill="none"/><path d="M1759.5 1262.0L1691.0 1453.0" stroke="#ff0000" stroke-width="4.4" stroke-dasharray="11.5 5" fill="none"/><path d="M1906.0 1262.0L1972.5 1453.0" stroke="#ff0000" stroke-width="4.4" stroke-dasharray="11.5 5" fill="none"/><path d="M1907.0 1163.0L2120.0 1453.0" stroke="#ff0000" stroke-width="4.4" stroke-dasharray="11.5 5" fill="none"/></g><clipPath id="ce"><rect x="199.3" y="2024.8" width="949.5" height="716.5"/></clipPath><g clip-path="url(#ce)"><rect x="199.3" y="2024.8" width="949.5" height="716.5" fill="#fafaf7"/><rect x="169.3" y="2110" width="830" height="44" fill="#ecece6" opacity="0.8" filter="url(#b8)"/><rect x="995" y="2024.8" width="60" height="716.5" fill="#f3f3ef" filter="url(#b8)"/><rect x="1092" y="2004.8" width="30" height="756.5" fill="#fefefc" filter="url(#b4)"/><rect x="1128" y="2024.8" width="22" height="716.5" fill="#f3f3ef"/><rect x="199.3" y="2372" width="740" height="372" fill="#f2f2ee"/><path d="M194.4 2745V2388.9A3.1 3.1 0 0 1 200.5 2388.9V2745M207.4 2745V2388.9A3.1 3.1 0 0 1 213.5 2388.9V2745M220.4 2745V2388.9A3.1 3.1 0 0 1 226.5 2388.9V2745M256.3 2745V2388.9A3.1 3.1 0 0 1 262.5 2388.9V2745M269.4 2745V2388.9A3.1 3.1 0 0 1 275.5 2388.9V2745M282.5 2745V2388.9A3.1 3.1 0 0 1 288.6 2388.9V2745M295.6 2745V2388.9A3.1 3.1 0 0 1 301.7 2388.9V2745M308.7 2745V2388.9A3.1 3.1 0 0 1 314.8 2388.9V2745M321.8 2745V2388.9A3.1 3.1 0 0 1 327.9 2388.9V2745M334.9 2745V2388.9A3.1 3.1 0 0 1 341.0 2388.9V2745M348.0 2745V2388.9A3.1 3.1 0 0 1 354.1 2388.9V2745M361.0 2745V2388.9A3.1 3.1 0 0 1 367.2 2388.9V2745M389.8 2745V2388.7A2.9 2.9 0 0 1 395.5 2388.7V2745M402.0 2745V2388.7A2.9 2.9 0 0 1 407.7 2388.7V2745M414.1 2745V2388.7A2.9 2.9 0 0 1 419.8 2388.7V2745M426.3 2745V2388.7A2.9 2.9 0 0 1 432.0 2388.7V2745M438.4 2745V2388.7A2.9 2.9 0 0 1 444.2 2388.7V2745M450.6 2745V2388.7A2.9 2.9 0 0 1 456.3 2388.7V2745M462.8 2745V2388.7A2.9 2.9 0 0 1 468.5 2388.7V2745M474.9 2745V2388.7A2.9 2.9 0 0 1 480.6 2388.7V2745M487.1 2745V2388.7A2.9 2.9 0 0 1 492.8 2388.7V2745M516.8 2745V2388.7A2.9 2.9 0 0 1 522.5 2388.7V2745M529.0 2745V2388.7A2.9 2.9 0 0 1 534.7 2388.7V2745M541.1 2745V2388.7A2.9 2.9 0 0 1 546.8 2388.7V2745M553.3 2745V2388.7A2.9 2.9 0 0 1 559.0 2388.7V2745M565.4 2745V2388.7A2.9 2.9 0 0 1 571.2 2388.7V2745M577.6 2745V2388.7A2.9 2.9 0 0 1 583.3 2388.7V2745M589.8 2745V2388.7A2.9 2.9 0 0 1 595.5 2388.7V2745M601.9 2745V2388.7A2.9 2.9 0 0 1 607.6 2388.7V2745M614.1 2745V2388.7A2.9 2.9 0 0 1 619.8 2388.7V2745M656.8 2745V2388.8A3.0 3.0 0 0 1 662.8 2388.8V2745M669.6 2745V2388.8A3.0 3.0 0 0 1 675.6 2388.8V2745M682.4 2745V2388.8A3.0 3.0 0 0 1 688.4 2388.8V2745M695.2 2745V2388.8A3.0 3.0 0 0 1 701.2 2388.8V2745M708.0 2745V2388.8A3.0 3.0 0 0 1 714.0 2388.8V2745M720.8 2745V2388.8A3.0 3.0 0 0 1 726.8 2388.8V2745M733.6 2745V2388.8A3.0 3.0 0 0 1 739.6 2388.8V2745M746.4 2745V2388.8A3.0 3.0 0 0 1 752.4 2388.8V2745M759.2 2745V2388.8A3.0 3.0 0 0 1 765.2 2388.8V2745" fill="none" stroke="#8e8c88" stroke-width="1.6"/><path d="M798.8 2745V2388.6A2.9 2.9 0 0 1 804.5 2388.6V2745M811.0 2745V2388.6A2.9 2.9 0 0 1 816.8 2388.6V2745M823.3 2745V2388.6A2.9 2.9 0 0 1 829.0 2388.6V2745M835.6 2745V2388.6A2.9 2.9 0 0 1 841.3 2388.6V2745M847.8 2745V2388.6A2.9 2.9 0 0 1 853.6 2388.6V2745M860.1 2745V2388.6A2.9 2.9 0 0 1 865.8 2388.6V2745M872.4 2745V2388.6A2.9 2.9 0 0 1 878.1 2388.6V2745M884.6 2745V2388.6A2.9 2.9 0 0 1 890.4 2388.6V2745M896.9 2745V2388.6A2.9 2.9 0 0 1 902.6 2388.6V2745" fill="none" stroke="#b2b2ae" stroke-width="1.5"/><clipPath id="cedk"><path d="M190 2157.5H988.2V2750H937.5V2374.5H190Z"/></clipPath><g clip-path="url(#cedk)"><rect x="190" y="2150" width="800" height="600" fill="url(#gedark)"/><ellipse cx="468" cy="2365" rx="58" ry="150" fill="url(#geglow)"/><rect x="190" y="2150" width="798.2" height="600" fill="url(#gedarkr)"/></g><g fill="#a87870" filter="url(#b1)"><ellipse cx="884" cy="2368" rx="21" ry="9"/><ellipse cx="848" cy="2373" rx="9" ry="4"/><ellipse cx="908" cy="2372" rx="8" ry="4"/></g><rect x="866" y="2392" width="28" height="66" fill="#f0dcd8" opacity="0.55" filter="url(#b4)"/><clipPath id="cei"><rect x="262.0" y="2386.9" width="495.2" height="331.4"/></clipPath><g clip-path="url(#cei)"><rect x="262.0" y="2386.9" width="495.2" height="331.4" fill="#342a29"/><g filter="url(#b1)"><ellipse cx="681.2" cy="2542.8" rx="38.8" ry="43.9" fill="#4a2e28"/><ellipse cx="434.7" cy="2542.8" rx="35.4" ry="38.8" fill="#3f2620"/><ellipse cx="286.2" cy="2542.8" rx="18.6" ry="11.8" fill="#4a2c28"/><ellipse cx="343.6" cy="2544.5" rx="50.6" ry="34.8" fill="#5c3631"/><ellipse cx="542.8" cy="2563.1" rx="108.0" ry="108.0" fill="#5e3530"/><ellipse cx="590.0" cy="2536.0" rx="52.3" ry="83.7" fill="#673a33"/><ellipse cx="520.8" cy="2556.3" rx="60.8" ry="65.8" fill="#4e2a25"/><ellipse cx="522.5" cy="2556.3" rx="45.6" ry="55.7" fill="#6a3f37"/><ellipse cx="524.2" cy="2556.3" rx="27.0" ry="40.5" fill="#55302a"/><g fill="#efe6e2" opacity="0.9"><circle cx="461.7" cy="2497.2" r="2.6"/><circle cx="509.0" cy="2490.5" r="2.4"/><circle cx="593.4" cy="2487.1" r="2.8"/><circle cx="453.3" cy="2504.0" r="2.4"/><circle cx="613.7" cy="2542.8" r="3"/><circle cx="539.4" cy="2541.1" r="2.6"/><circle cx="328.4" cy="2522.5" r="2.2"/></g></g><rect x="262.0" y="2539.4" width="495.2" height="178.9" fill="url(#gegrey)"/><rect x="262.0" y="2539.4" width="495.2" height="178.9" fill="url(#gegrey2)"/><g filter="url(#b1)"><path d="M277.4 2725V2597.8H307.2V2725" fill="none" stroke="#2c1e1e" stroke-width="7.4" opacity="1"/><path d="M343.2 2725V2597.8H374.3V2725" fill="none" stroke="#2e2020" stroke-width="7.4" opacity="1"/><path d="M409.4 2725V2598.1H443.2V2725" fill="none" stroke="#55322c" stroke-width="8" opacity="1"/><path d="M476.4 2725V2597.6H511.2V2725" fill="none" stroke="#6a443c" stroke-width="7" opacity="0.85" stroke-dasharray="26 7 9 5 30 9"/><path d="M541.2 2725V2597.6H574.0V2725" fill="none" stroke="#5e3c36" stroke-width="7" opacity="0.85" stroke-dasharray="12 6 34 8 9 7"/><path d="M609.6 2725V2597.9H641.3V2725" fill="none" stroke="#55322e" stroke-width="7.5" opacity="0.95" stroke-dasharray="90 5 60 8"/></g></g><rect x="262.0" y="2386.9" width="495.2" height="331.4" fill="none" stroke="#ff0000" stroke-width="4.8"/><rect x="822.6" y="2337.7" width="105.7" height="79.3" fill="none" stroke="#ff0000" stroke-width="4.5"/><path d="M820.0 2338.2L300.0 2388.5" stroke="#ff0000" stroke-width="4.0" stroke-dasharray="12 6.5" fill="none"/><path d="M821.0 2418.5L759.0 2452.0" stroke="#ff0000" stroke-width="4.0" stroke-dasharray="12 6.5" fill="none"/><path d="M929.5 2419.0L760.0 2705.0" stroke="#ff0000" stroke-width="4.0" stroke-dasharray="12 6.5" fill="none"/></g><clipPath id="cf"><rect x="1419.6" y="2032.5" width="950.4" height="714.7"/></clipPath><g clip-path="url(#cf)"><rect x="1419.6" y="2032.5" width="950.4" height="714.7" fill="url(#gfbg)"/><rect x="1419.6" y="2032.5" width="950.4" height="714.7" fill="#000" filter="url(#marble)" opacity="0.3"/><rect x="1419.6" y="2032.5" width="70" height="714.7" fill="url(#gfleft)"/><rect x="1400" y="2371" width="150" height="380" fill="url(#gfleft2)"/><path d="M1440 2105q60-48 230-58q200-10 420-8" fill="none" stroke="#fbfbf9" stroke-width="9" filter="url(#b4)" opacity="0.95"/><path d="M1490 2118q10-40 80-52" fill="none" stroke="#fbfbf9" stroke-width="6" filter="url(#b2)" opacity="0.8"/><path d="M1640 2040l40 100M1740 2045l30 90M2080 2040l60 100M2140 2050l10 90" fill="none" stroke="#a8aaa6" stroke-width="1.6" opacity="0.6"/><rect x="1440" y="2128" width="940" height="34" fill="#868a86" opacity="0.5" filter="url(#b8)"/><path d="M1539.3 2750V2386.0A2.5 2.5 0 0 1 1544.4 2386.0V2750M1551.3 2750V2386.0A2.5 2.5 0 0 1 1556.4 2386.0V2750M1563.4 2750V2386.0A2.5 2.5 0 0 1 1568.4 2386.0V2750M1575.4 2750V2386.0A2.5 2.5 0 0 1 1580.5 2386.0V2750M1587.5 2750V2386.0A2.5 2.5 0 0 1 1592.5 2386.0V2750M1599.5 2750V2386.0A2.5 2.5 0 0 1 1604.6 2386.0V2750M1611.6 2750V2386.0A2.5 2.5 0 0 1 1616.6 2386.0V2750M1623.6 2750V2386.0A2.5 2.5 0 0 1 1628.7 2386.0V2750M1635.6 2750V2386.0A2.5 2.5 0 0 1 1640.7 2386.0V2750M1665.4 2750V2386.4A2.9 2.9 0 0 1 1671.2 2386.4V2750M1679.3 2750V2386.4A2.9 2.9 0 0 1 1685.1 2386.4V2750M1693.2 2750V2386.4A2.9 2.9 0 0 1 1699.0 2386.4V2750M1707.1 2750V2386.4A2.9 2.9 0 0 1 1712.9 2386.4V2750M1721.0 2750V2386.4A2.9 2.9 0 0 1 1726.8 2386.4V2750M1734.9 2750V2386.4A2.9 2.9 0 0 1 1740.7 2386.4V2750M1748.8 2750V2386.4A2.9 2.9 0 0 1 1754.6 2386.4V2750M1762.7 2750V2386.4A2.9 2.9 0 0 1 1768.5 2386.4V2750M1776.6 2750V2386.4A2.9 2.9 0 0 1 1782.4 2386.4V2750M1808.2 2750V2386.3A2.8 2.8 0 0 1 1813.8 2386.3V2750M1821.6 2750V2386.3A2.8 2.8 0 0 1 1827.2 2386.3V2750M1835.0 2750V2386.3A2.8 2.8 0 0 1 1840.6 2386.3V2750M1848.4 2750V2386.3A2.8 2.8 0 0 1 1854.0 2386.3V2750M1861.8 2750V2386.3A2.8 2.8 0 0 1 1867.4 2386.3V2750M1875.2 2750V2386.3A2.8 2.8 0 0 1 1880.8 2386.3V2750M1888.6 2750V2386.3A2.8 2.8 0 0 1 1894.2 2386.3V2750M1902.0 2750V2386.3A2.8 2.8 0 0 1 1907.6 2386.3V2750M1915.4 2750V2386.3A2.8 2.8 0 0 1 1921.0 2386.3V2750M1947.3 2750V2386.0A2.5 2.5 0 0 1 1952.3 2386.0V2750M1959.1 2750V2386.0A2.5 2.5 0 0 1 1964.1 2386.0V2750M1970.9 2750V2386.0A2.5 2.5 0 0 1 1975.9 2386.0V2750M1982.7 2750V2386.0A2.5 2.5 0 0 1 1987.7 2386.0V2750M1994.5 2750V2386.0A2.5 2.5 0 0 1 1999.5 2386.0V2750M2006.3 2750V2386.0A2.5 2.5 0 0 1 2011.3 2386.0V2750M2018.1 2750V2386.0A2.5 2.5 0 0 1 2023.1 2386.0V2750M2029.9 2750V2386.0A2.5 2.5 0 0 1 2034.9 2386.0V2750M2041.7 2750V2386.0A2.5 2.5 0 0 1 2046.7 2386.0V2750M2074.3 2750V2386.3A2.8 2.8 0 0 1 2080.0 2386.3V2750M2087.8 2750V2386.3A2.8 2.8 0 0 1 2093.4 2386.3V2750M2101.2 2750V2386.3A2.8 2.8 0 0 1 2106.9 2386.3V2750M2114.7 2750V2386.3A2.8 2.8 0 0 1 2120.4 2386.3V2750M2128.2 2750V2386.3A2.8 2.8 0 0 1 2133.8 2386.3V2750M2141.6 2750V2386.3A2.8 2.8 0 0 1 2147.3 2386.3V2750M2155.1 2750V2386.3A2.8 2.8 0 0 1 2160.8 2386.3V2750M2168.6 2750V2386.3A2.8 2.8 0 0 1 2174.2 2386.3V2750M2182.0 2750V2386.3A2.8 2.8 0 0 1 2187.7 2386.3V2750M2215.3 2750V2386.3A2.8 2.8 0 0 1 2221.0 2386.3V2750M2228.8 2750V2386.3A2.8 2.8 0 0 1 2234.4 2386.3V2750M2242.2 2750V2386.3A2.8 2.8 0 0 1 2247.9 2386.3V2750M2255.7 2750V2386.3A2.8 2.8 0 0 1 2261.4 2386.3V2750M2269.2 2750V2386.3A2.8 2.8 0 0 1 2274.8 2386.3V2750M2282.6 2750V2386.3A2.8 2.8 0 0 1 2288.3 2386.3V2750M2296.1 2750V2386.3A2.8 2.8 0 0 1 2301.8 2386.3V2750M2309.6 2750V2386.3A2.8 2.8 0 0 1 2315.2 2386.3V2750M2323.0 2750V2386.3A2.8 2.8 0 0 1 2328.7 2386.3V2750M2353.3 2750V2386.2A2.7 2.7 0 0 1 2358.8 2386.2V2750M2366.3 2750V2386.2A2.7 2.7 0 0 1 2371.8 2386.2V2750M2379.3 2750V2386.2A2.7 2.7 0 0 1 2384.8 2386.2V2750" fill="none" stroke="#4e4e4c" stroke-width="2.6"/><path d="M1444.8 2156.6L2375 2150.5V2371.2H1444.8Z" fill="#1c1819"/><rect x="1444.8" y="2158" width="12" height="200" fill="#4a201c" opacity="0.7" filter="url(#b4)"/><clipPath id="cf1"><rect x="1614.1" y="2432.1" width="298.8" height="249.8"/></clipPath><g clip-path="url(#cf1)"><rect x="1614.1" y="2432.1" width="298.8" height="249.8" fill="#2b201e"/><rect x="1614.1" y="2432.1" width="298.8" height="114.4" fill="#000" filter="url(#grain)" opacity="0.22"/><circle cx="1774.8" cy="2534.5" r="29" fill="#6a483a" filter="url(#b1)"/><circle cx="1774.8" cy="2535.5" r="24.4" fill="#5a3e33" filter="url(#b2)"/><path d="M1609.1 2545.5Q1711.0 2544.5 1740.0 2542.5Q1750.1 2541.5 1754.5 2537.5Q1766.1 2532.5 1780.6 2534.5Q1795.1 2536.5 1802.3 2541.5Q1818.3 2544.5 1838.6 2542.5Q1856.0 2545.5 1917.9 2543.5V2686.9H1609.1Z" fill="url(#gfw)" filter="url(#b1)"/><g fill="none" stroke="#b4bab6" stroke-width="2.2" stroke-linecap="round" opacity="0.8" filter="url(#b1)"><path d="M1762.8 2558.5l14 -14M1776.8 2554.5l10 -10"/><path d="M1780.8 2562.5q10 -2 14 -10" stroke="#f4f6f4"/></g><path d="M1595.0 2690V2643.7H1650.2V2690" fill="none" stroke="#2a2322" stroke-width="12.4"/><path d="M1708.3 2690V2643.7H1762.3V2690" fill="none" stroke="#2a2322" stroke-width="12.4"/><path d="M1818.3 2690V2643.7H1872.3V2690" fill="none" stroke="#2a2322" stroke-width="12.4"/></g><rect x="1614.1" y="2432.1" width="298.8" height="249.8" fill="none" stroke="#ff0000" stroke-width="4.8"/><clipPath id="cf2"><rect x="2017.5" y="2432.1" width="298.8" height="249.8"/></clipPath><g clip-path="url(#cf2)"><rect x="2017.5" y="2432.1" width="298.8" height="249.8" fill="#2b201e"/><rect x="2017.5" y="2432.1" width="298.8" height="123.9" fill="#000" filter="url(#grain)" opacity="0.22"/><circle cx="2168.4" cy="2536.6" r="42" fill="#6a483a" filter="url(#b1)"/><circle cx="2168.4" cy="2537.6" r="35.3" fill="#5a3e33" filter="url(#b2)"/><path d="M2012.5 2555.0Q2076.0 2554.0 2118.0 2552.0Q2132.7 2551.0 2139.0 2547.0Q2155.8 2547.0 2176.8 2549.0Q2197.8 2551.0 2208.3 2551.0Q2231.4 2554.0 2260.8 2552.0Q2286.0 2555.0 2321.3 2553.0V2686.9H2012.5Z" fill="url(#gfw)" filter="url(#b1)"/><g fill="none" stroke="#b4bab6" stroke-width="2.2" stroke-linecap="round" opacity="0.8" filter="url(#b1)"><path d="M2156.4 2568l14 -14M2170.4 2564l10 -10"/><path d="M2174.4 2572q10 -2 14 -10" stroke="#f4f6f4"/></g><path d="M2042.3 2690V2658.5H2106.8V2690" fill="none" stroke="#2a2322" stroke-width="21"/><path d="M2173.9 2690V2658.5H2237.5V2690" fill="none" stroke="#2a2322" stroke-width="21"/><path d="M2303.8 2690V2658.5H2340.0V2690" fill="none" stroke="#2a2322" stroke-width="21"/></g><rect x="2017.5" y="2432.1" width="298.8" height="249.8" fill="none" stroke="#ff0000" stroke-width="4.8"/><rect x="1968.5" y="2347.0" width="55.2" height="44.4" fill="none" stroke="#ff0000" stroke-width="3.4"/><rect x="2138.7" y="2341.6" width="51.1" height="46.9" fill="none" stroke="#ff0000" stroke-width="3.4"/><path d="M1967.0 2347.0L1617.0 2431.0" stroke="#ff0000" stroke-width="4.0" stroke-dasharray="12 6.5" fill="none"/><path d="M1968.0 2392.0L1914.0 2431.0" stroke="#ff0000" stroke-width="4.0" stroke-dasharray="12 6.5" fill="none"/><path d="M2024.5 2392.5L1914.0 2664.0" stroke="#ff0000" stroke-width="4.0" stroke-dasharray="12 6.5" fill="none"/><path d="M2138.0 2341.5L2019.0 2430.0" stroke="#ff0000" stroke-width="4.0" stroke-dasharray="12 6.5" fill="none"/><path d="M2138.5 2389.5L2123.5 2430.0" stroke="#ff0000" stroke-width="4.0" stroke-dasharray="12 6.5" fill="none"/><path d="M2190.0 2389.5L2208.5 2430.0" stroke="#ff0000" stroke-width="4.0" stroke-dasharray="12 6.5" fill="none"/><path d="M2190.5 2341.5L2315.0 2430.0" stroke="#ff0000" stroke-width="4.0" stroke-dasharray="12 6.5" fill="none"/></g>
<g font-family="Liberation Sans, Arial, sans-serif" fill="#000">
<polyline fill="none" stroke="#000000" stroke-width="3.5" stroke-dasharray="8.5 9.3" points="248.8,147.7 259.8,819.9 270.8,830.1 281.7,828.7 292.7,824.6 303.7,819.9 314.7,807.6"/><circle cx="248.8" cy="147.7" r="10.6" fill="#000000"/><circle cx="259.8" cy="819.9" r="10.6" fill="#000000"/><circle cx="270.8" cy="830.1" r="10.6" fill="#000000"/><circle cx="281.7" cy="828.7" r="10.6" fill="#000000"/><circle cx="292.7" cy="824.6" r="10.6" fill="#000000"/><circle cx="303.7" cy="819.9" r="10.6" fill="#000000"/><circle cx="314.7" cy="807.6" r="10.6" fill="#000000"/>
<polyline fill="none" stroke="#2ca516" stroke-width="3.5" stroke-dasharray="8.5 9.3" points="248.8,144.3 259.8,152.5 270.8,162.7 281.7,160.3 292.7,235.8 303.7,312.3 314.7,570.5 336.6,794.6 358.6,815.8 390.0,806.2 413.5,824.0 437.0,819.9"/><path d="M236.2 155.3H261.4L248.8 132.9Z" fill="#2ca516"/><path d="M247.2 163.5H272.4L259.8 141.1Z" fill="#2ca516"/><path d="M258.2 173.7H283.4L270.8 151.3Z" fill="#2ca516"/><path d="M269.1 171.3H294.3L281.7 148.9Z" fill="#2ca516"/><path d="M280.1 246.8H305.3L292.7 224.4Z" fill="#2ca516"/><path d="M291.1 323.3H316.3L303.7 300.9Z" fill="#2ca516"/><path d="M302.1 581.5H327.3L314.7 559.1Z" fill="#2ca516"/><path d="M324.0 805.6H349.2L336.6 783.2Z" fill="#2ca516"/><path d="M346.0 826.8H371.2L358.6 804.4Z" fill="#2ca516"/><path d="M377.4 817.2H402.6L390.0 794.8Z" fill="#2ca516"/><path d="M400.9 835.0H426.1L413.5 812.6Z" fill="#2ca516"/><path d="M424.4 830.9H449.6L437.0 808.5Z" fill="#2ca516"/>
<polyline fill="none" stroke="#ff0000" stroke-width="3.5" stroke-dasharray="8.5 9.3" points="248.8,147.7 259.8,169.6 270.8,179.5 281.7,186.0 292.7,194.8 303.7,206.5 314.7,218.3 336.6,229.3 358.6,267.2 390.0,291.8 413.5,312.3 437.0,304.8 457.4,335.6 477.8,372.4 501.3,382.7 535.8,421.6 556.2,453.0 576.6,450.3 601.7,468.1 622.1,483.1 644.0,491.0 666.0,496.8 687.9,514.2 709.9,569.9 731.8,565.8 753.8,712.6 777.3,759.1 807.1,798.3 830.7,820.2 854.2,821.9 874.6,824.6 895.0,830.8 935.7,830.8"/><rect x="238.6" y="137.5" width="20.4" height="20.4" fill="#ff0000"/><rect x="249.6" y="159.4" width="20.4" height="20.4" fill="#ff0000"/><rect x="260.6" y="169.3" width="20.4" height="20.4" fill="#ff0000"/><rect x="271.5" y="175.8" width="20.4" height="20.4" fill="#ff0000"/><rect x="282.5" y="184.6" width="20.4" height="20.4" fill="#ff0000"/><rect x="293.5" y="196.3" width="20.4" height="20.4" fill="#ff0000"/><rect x="304.5" y="208.1" width="20.4" height="20.4" fill="#ff0000"/><rect x="326.4" y="219.1" width="20.4" height="20.4" fill="#ff0000"/><rect x="348.4" y="257.0" width="20.4" height="20.4" fill="#ff0000"/><rect x="379.8" y="281.6" width="20.4" height="20.4" fill="#ff0000"/><rect x="403.3" y="302.1" width="20.4" height="20.4" fill="#ff0000"/><rect x="426.8" y="294.6" width="20.4" height="20.4" fill="#ff0000"/><rect x="447.2" y="325.4" width="20.4" height="20.4" fill="#ff0000"/><rect x="467.6" y="362.2" width="20.4" height="20.4" fill="#ff0000"/><rect x="491.1" y="372.5" width="20.4" height="20.4" fill="#ff0000"/><rect x="525.6" y="411.4" width="20.4" height="20.4" fill="#ff0000"/><rect x="546.0" y="442.8" width="20.4" height="20.4" fill="#ff0000"/><rect x="566.4" y="440.1" width="20.4" height="20.4" fill="#ff0000"/><rect x="591.5" y="457.9" width="20.4" height="20.4" fill="#ff0000"/><rect x="611.9" y="472.9" width="20.4" height="20.4" fill="#ff0000"/><rect x="633.8" y="480.8" width="20.4" height="20.4" fill="#ff0000"/><rect x="655.8" y="486.6" width="20.4" height="20.4" fill="#ff0000"/><rect x="677.7" y="504.0" width="20.4" height="20.4" fill="#ff0000"/><rect x="699.7" y="559.7" width="20.4" height="20.4" fill="#ff0000"/><rect x="721.6" y="555.6" width="20.4" height="20.4" fill="#ff0000"/><rect x="743.6" y="702.4" width="20.4" height="20.4" fill="#ff0000"/><rect x="767.1" y="748.9" width="20.4" height="20.4" fill="#ff0000"/><rect x="796.9" y="788.1" width="20.4" height="20.4" fill="#ff0000"/><rect x="820.5" y="810.0" width="20.4" height="20.4" fill="#ff0000"/><rect x="844.0" y="811.7" width="20.4" height="20.4" fill="#ff0000"/><rect x="864.4" y="814.4" width="20.4" height="20.4" fill="#ff0000"/><rect x="884.8" y="820.6" width="20.4" height="20.4" fill="#ff0000"/><rect x="925.5" y="820.6" width="20.4" height="20.4" fill="#ff0000"/>
<polyline fill="none" stroke="#1421ff" stroke-width="3.5" stroke-dasharray="8.5 9.3" points="248.8,149.8 259.8,160.3 270.8,167.5 281.7,178.4 292.7,186.6 303.7,192.1 314.7,203.7 336.6,219.4 358.6,231.4 390.0,235.1 413.5,246.4 437.0,257.0 457.4,276.3 491.9,273.4 523.3,273.4 556.2,288.4 590.7,298.7 622.1,318.5 644.0,317.8 667.5,326.0 700.5,322.6 722.4,330.1 763.2,339.3 810.3,354.7 863.6,543.4 896.5,573.3 945.1,579.4 985.9,544.9 995.3,771.4 1022.0,828.7 1065.9,832.2 1106.7,832.8"/><path d="M236.2 138.8H261.4L248.8 161.2Z" fill="#1421ff"/><path d="M247.2 149.3H272.4L259.8 171.7Z" fill="#1421ff"/><path d="M258.2 156.5H283.4L270.8 178.9Z" fill="#1421ff"/><path d="M269.1 167.4H294.3L281.7 189.8Z" fill="#1421ff"/><path d="M280.1 175.6H305.3L292.7 198.0Z" fill="#1421ff"/><path d="M291.1 181.1H316.3L303.7 203.5Z" fill="#1421ff"/><path d="M302.1 192.7H327.3L314.7 215.1Z" fill="#1421ff"/><path d="M324.0 208.4H349.2L336.6 230.8Z" fill="#1421ff"/><path d="M346.0 220.4H371.2L358.6 242.8Z" fill="#1421ff"/><path d="M377.4 224.1H402.6L390.0 246.5Z" fill="#1421ff"/><path d="M400.9 235.4H426.1L413.5 257.8Z" fill="#1421ff"/><path d="M424.4 246.0H449.6L437.0 268.4Z" fill="#1421ff"/><path d="M444.8 265.3H470.0L457.4 287.7Z" fill="#1421ff"/><path d="M479.3 262.4H504.5L491.9 284.8Z" fill="#1421ff"/><path d="M510.7 262.4H535.9L523.3 284.8Z" fill="#1421ff"/><path d="M543.6 277.4H568.8L556.2 299.8Z" fill="#1421ff"/><path d="M578.1 287.7H603.3L590.7 310.1Z" fill="#1421ff"/><path d="M609.5 307.5H634.7L622.1 329.9Z" fill="#1421ff"/><path d="M631.4 306.8H656.6L644.0 329.2Z" fill="#1421ff"/><path d="M654.9 315.0H680.1L667.5 337.4Z" fill="#1421ff"/><path d="M687.9 311.6H713.1L700.5 334.0Z" fill="#1421ff"/><path d="M709.8 319.1H735.0L722.4 341.5Z" fill="#1421ff"/><path d="M750.6 328.3H775.8L763.2 350.7Z" fill="#1421ff"/><path d="M797.7 343.7H822.9L810.3 366.1Z" fill="#1421ff"/><path d="M851.0 532.4H876.2L863.6 554.8Z" fill="#1421ff"/><path d="M883.9 562.3H909.1L896.5 584.7Z" fill="#1421ff"/><path d="M932.5 568.4H957.7L945.1 590.8Z" fill="#1421ff"/><path d="M973.3 533.9H998.5L985.9 556.3Z" fill="#1421ff"/><path d="M982.7 760.4H1007.9L995.3 782.8Z" fill="#1421ff"/><path d="M1009.4 817.7H1034.6L1022.0 840.1Z" fill="#1421ff"/><path d="M1053.3 821.2H1078.5L1065.9 843.6Z" fill="#1421ff"/><path d="M1094.1 821.8H1119.3L1106.7 844.2Z" fill="#1421ff"/>
<rect x="170.4" y="79.4" width="1019.4" height="819.7" fill="none" stroke="#262626" stroke-width="3.8"/>
<path d="M248.8 899.1v16.5M248.8 79.4v15M405.6 899.1v16.5M405.6 79.4v15M562.5 899.1v16.5M562.5 79.4v15M719.3 899.1v16.5M719.3 79.4v15M876.1 899.1v16.5M876.1 79.4v15M1033.0 899.1v16.5M1033.0 79.4v15M1189.8 899.1v16.5M1189.8 79.4v15M170.4 899.1v10M170.4 79.4v9M327.2 899.1v10M327.2 79.4v9M484.1 899.1v10M484.1 79.4v9M640.9 899.1v10M640.9 79.4v9M797.7 899.1v10M797.7 79.4v9M954.5 899.1v10M954.5 79.4v9M1111.4 899.1v10M1111.4 79.4v9M170.4 830.8h-16.5M1189.8 830.8h-15M170.4 694.2h-16.5M1189.8 694.2h-15M170.4 557.6h-16.5M1189.8 557.6h-15M170.4 420.9h-16.5M1189.8 420.9h-15M170.4 284.3h-16.5M1189.8 284.3h-15M170.4 147.7h-16.5M1189.8 147.7h-15M170.4 899.1h-10M1189.8 899.1h-9M170.4 762.5h-10M1189.8 762.5h-9M170.4 625.9h-10M1189.8 625.9h-9M170.4 489.3h-10M1189.8 489.3h-9M170.4 352.6h-10M1189.8 352.6h-9M170.4 216.0h-10M1189.8 216.0h-9M170.4 79.4h-10M1189.8 79.4h-9" stroke="#262626" stroke-width="3.4" fill="none"/>
<text x="248.8" y="960.9" font-size="43" text-anchor="middle">0</text>
<text x="405.6" y="960.9" font-size="43" text-anchor="middle">100</text>
<text x="562.5" y="960.9" font-size="43" text-anchor="middle">200</text>
<text x="719.3" y="960.9" font-size="43" text-anchor="middle">300</text>
<text x="876.1" y="960.9" font-size="43" text-anchor="middle">400</text>
<text x="1033.0" y="960.9" font-size="43" text-anchor="middle">500</text>
<text x="1189.8" y="960.9" font-size="43" text-anchor="middle">600</text>
<text x="142.3" y="843.8" font-size="43" text-anchor="end">0.0</text>
<text x="142.3" y="707.2" font-size="43" text-anchor="end">0.2</text>
<text x="142.3" y="570.6" font-size="43" text-anchor="end">0.4</text>
<text x="142.3" y="433.9" font-size="43" text-anchor="end">0.6</text>
<text x="142.3" y="297.3" font-size="43" text-anchor="end">0.8</text>
<text x="142.3" y="160.7" font-size="43" text-anchor="end">1.0</text>
<text x="681.1" y="1038.1" font-size="50" letter-spacing="0.45" text-anchor="middle">Soaking time at 60°C (days)</text>
<text transform="translate(58.0 489.2) rotate(-90)" font-size="50" text-anchor="middle">|Z|/|Z0|</text>
<rect x="913.9" y="93.7" width="267.6" height="215.6" fill="#fff" stroke="#262626" stroke-width="3"/>
<path d="M917.7 122.4h118" stroke="#000000" stroke-width="3.5" stroke-dasharray="8.5 9.3" fill="none"/>
<circle cx="976.3" cy="122.4" r="10.6" fill="#000000"/>
<text x="1044.9" y="137.4" font-size="43">0.3 μm</text>
<path d="M917.7 175.1h118" stroke="#2ca516" stroke-width="3.5" stroke-dasharray="8.5 9.3" fill="none"/>
<path d="M963.7 186.1H988.9L976.3 163.7Z" fill="#2ca516"/>
<text x="1044.9" y="190.1" font-size="43">0.6 μm</text>
<path d="M917.7 227.7h118" stroke="#ff0000" stroke-width="3.5" stroke-dasharray="8.5 9.3" fill="none"/>
<rect x="966.1" y="217.5" width="20.4" height="20.4" fill="#ff0000"/>
<text x="1044.9" y="242.7" font-size="43">0.9 μm</text>
<path d="M917.7 280.4h118" stroke="#1421ff" stroke-width="3.5" stroke-dasharray="8.5 9.3" fill="none"/>
<path d="M963.7 269.4H988.9L976.3 291.8Z" fill="#1421ff"/>
<text x="1044.9" y="295.4" font-size="43">1.2 μm</text>
</g>
<g font-family="Liberation Sans, Arial, sans-serif" fill="#000">
<polyline fill="none" stroke="#000000" stroke-width="3.5" stroke-dasharray="8.5 9.3" points="1459.5,821.3 1470.5,207.9 1481.5,385.9 1492.5,440.3 1503.4,433.8 1514.4,410.9 1525.4,434.5"/><circle cx="1459.5" cy="821.3" r="10.6" fill="#000000"/><circle cx="1470.5" cy="207.9" r="10.6" fill="#000000"/><circle cx="1481.5" cy="385.9" r="10.6" fill="#000000"/><circle cx="1492.5" cy="440.3" r="10.6" fill="#000000"/><circle cx="1503.4" cy="433.8" r="10.6" fill="#000000"/><circle cx="1514.4" cy="410.9" r="10.6" fill="#000000"/><circle cx="1525.4" cy="434.5" r="10.6" fill="#000000"/>
<polyline fill="none" stroke="#2ca516" stroke-width="3.5" stroke-dasharray="8.5 9.3" points="1459.5,822.8 1470.5,819.2 1481.5,813.5 1492.5,807.0 1503.4,764.8 1514.4,760.6 1525.4,638.3 1547.4,227.2 1569.3,524.6 1600.7,493.9 1624.3,486.0 1647.8,537.5"/><path d="M1446.9 833.8H1472.1L1459.5 811.4Z" fill="#2ca516"/><path d="M1457.9 830.2H1483.1L1470.5 807.8Z" fill="#2ca516"/><path d="M1468.9 824.5H1494.1L1481.5 802.1Z" fill="#2ca516"/><path d="M1479.9 818.0H1505.1L1492.5 795.6Z" fill="#2ca516"/><path d="M1490.8 775.8H1516.0L1503.4 753.4Z" fill="#2ca516"/><path d="M1501.8 771.6H1527.0L1514.4 749.2Z" fill="#2ca516"/><path d="M1512.8 649.3H1538.0L1525.4 626.9Z" fill="#2ca516"/><path d="M1534.8 238.2H1560.0L1547.4 215.8Z" fill="#2ca516"/><path d="M1556.7 535.6H1581.9L1569.3 513.2Z" fill="#2ca516"/><path d="M1588.1 504.9H1613.3L1600.7 482.5Z" fill="#2ca516"/><path d="M1611.7 497.0H1636.9L1624.3 474.6Z" fill="#2ca516"/><path d="M1635.2 548.5H1660.4L1647.8 526.1Z" fill="#2ca516"/>
<polyline fill="none" stroke="#ff0000" stroke-width="3.5" stroke-dasharray="8.5 9.3" points="1459.5,825.6 1470.5,817.0 1481.5,813.1 1492.5,810.6 1503.4,809.2 1514.4,806.3 1525.4,801.3 1547.4,796.3 1569.3,789.2 1600.7,779.9 1624.3,763.4 1647.8,783.4 1668.2,772.0 1688.6,764.8 1712.1,764.1 1746.7,750.2 1767.1,735.5 1787.5,752.0 1812.6,745.5 1833.0,738.4 1854.9,737.0 1876.9,739.8 1898.9,739.8 1920.8,739.8 1942.8,725.5 1964.8,562.5 1988.3,474.6 2018.1,342.3 2041.7,371.6 2065.2,342.3 2085.6,397.4 2106.0,330.2 2146.8,335.2"/><rect x="1449.3" y="815.4" width="20.4" height="20.4" fill="#ff0000"/><rect x="1460.3" y="806.8" width="20.4" height="20.4" fill="#ff0000"/><rect x="1471.3" y="802.9" width="20.4" height="20.4" fill="#ff0000"/><rect x="1482.3" y="800.4" width="20.4" height="20.4" fill="#ff0000"/><rect x="1493.2" y="799.0" width="20.4" height="20.4" fill="#ff0000"/><rect x="1504.2" y="796.1" width="20.4" height="20.4" fill="#ff0000"/><rect x="1515.2" y="791.1" width="20.4" height="20.4" fill="#ff0000"/><rect x="1537.2" y="786.1" width="20.4" height="20.4" fill="#ff0000"/><rect x="1559.1" y="779.0" width="20.4" height="20.4" fill="#ff0000"/><rect x="1590.5" y="769.7" width="20.4" height="20.4" fill="#ff0000"/><rect x="1614.1" y="753.2" width="20.4" height="20.4" fill="#ff0000"/><rect x="1637.6" y="773.2" width="20.4" height="20.4" fill="#ff0000"/><rect x="1658.0" y="761.8" width="20.4" height="20.4" fill="#ff0000"/><rect x="1678.4" y="754.6" width="20.4" height="20.4" fill="#ff0000"/><rect x="1701.9" y="753.9" width="20.4" height="20.4" fill="#ff0000"/><rect x="1736.5" y="740.0" width="20.4" height="20.4" fill="#ff0000"/><rect x="1756.9" y="725.3" width="20.4" height="20.4" fill="#ff0000"/><rect x="1777.3" y="741.8" width="20.4" height="20.4" fill="#ff0000"/><rect x="1802.4" y="735.3" width="20.4" height="20.4" fill="#ff0000"/><rect x="1822.8" y="728.2" width="20.4" height="20.4" fill="#ff0000"/><rect x="1844.7" y="726.8" width="20.4" height="20.4" fill="#ff0000"/><rect x="1866.7" y="729.6" width="20.4" height="20.4" fill="#ff0000"/><rect x="1888.7" y="729.6" width="20.4" height="20.4" fill="#ff0000"/><rect x="1910.6" y="729.6" width="20.4" height="20.4" fill="#ff0000"/><rect x="1932.6" y="715.3" width="20.4" height="20.4" fill="#ff0000"/><rect x="1954.6" y="552.3" width="20.4" height="20.4" fill="#ff0000"/><rect x="1978.1" y="464.4" width="20.4" height="20.4" fill="#ff0000"/><rect x="2007.9" y="332.1" width="20.4" height="20.4" fill="#ff0000"/><rect x="2031.5" y="361.4" width="20.4" height="20.4" fill="#ff0000"/><rect x="2055.0" y="332.1" width="20.4" height="20.4" fill="#ff0000"/><rect x="2075.4" y="387.2" width="20.4" height="20.4" fill="#ff0000"/><rect x="2095.8" y="320.0" width="20.4" height="20.4" fill="#ff0000"/><rect x="2136.6" y="325.0" width="20.4" height="20.4" fill="#ff0000"/>
<polyline fill="none" stroke="#1421ff" stroke-width="3.5" stroke-dasharray="8.5 9.3" points="1459.5,829.2 1470.5,823.5 1481.5,818.5 1492.5,814.2 1503.4,812.0 1514.4,809.2 1525.4,804.9 1547.4,786.3 1569.3,793.4 1600.7,793.4 1624.3,789.2 1647.8,784.2 1668.2,772.0 1702.7,777.0 1734.1,775.6 1767.1,771.3 1801.6,760.6 1833.0,757.7 1854.9,758.4 1878.5,755.6 1911.4,757.7 1933.4,757.0 1974.2,754.1 2021.3,746.3 2074.6,714.1 2107.6,714.8 2156.2,721.6 2197.0,719.8 2206.4,381.6 2233.1,521.8 2277.0,462.4 2317.8,411.7"/><path d="M1446.9 818.2H1472.1L1459.5 840.6Z" fill="#1421ff"/><path d="M1457.9 812.5H1483.1L1470.5 834.9Z" fill="#1421ff"/><path d="M1468.9 807.5H1494.1L1481.5 829.9Z" fill="#1421ff"/><path d="M1479.9 803.2H1505.1L1492.5 825.6Z" fill="#1421ff"/><path d="M1490.8 801.0H1516.0L1503.4 823.4Z" fill="#1421ff"/><path d="M1501.8 798.2H1527.0L1514.4 820.6Z" fill="#1421ff"/><path d="M1512.8 793.9H1538.0L1525.4 816.3Z" fill="#1421ff"/><path d="M1534.8 775.3H1560.0L1547.4 797.7Z" fill="#1421ff"/><path d="M1556.7 782.4H1581.9L1569.3 804.8Z" fill="#1421ff"/><path d="M1588.1 782.4H1613.3L1600.7 804.8Z" fill="#1421ff"/><path d="M1611.7 778.2H1636.9L1624.3 800.6Z" fill="#1421ff"/><path d="M1635.2 773.2H1660.4L1647.8 795.6Z" fill="#1421ff"/><path d="M1655.6 761.0H1680.8L1668.2 783.4Z" fill="#1421ff"/><path d="M1690.1 766.0H1715.3L1702.7 788.4Z" fill="#1421ff"/><path d="M1721.5 764.6H1746.7L1734.1 787.0Z" fill="#1421ff"/><path d="M1754.5 760.3H1779.7L1767.1 782.7Z" fill="#1421ff"/><path d="M1789.0 749.6H1814.2L1801.6 772.0Z" fill="#1421ff"/><path d="M1820.4 746.7H1845.6L1833.0 769.1Z" fill="#1421ff"/><path d="M1842.3 747.4H1867.5L1854.9 769.8Z" fill="#1421ff"/><path d="M1865.9 744.6H1891.1L1878.5 767.0Z" fill="#1421ff"/><path d="M1898.8 746.7H1924.0L1911.4 769.1Z" fill="#1421ff"/><path d="M1920.8 746.0H1946.0L1933.4 768.4Z" fill="#1421ff"/><path d="M1961.6 743.1H1986.8L1974.2 765.5Z" fill="#1421ff"/><path d="M2008.7 735.3H2033.9L2021.3 757.7Z" fill="#1421ff"/><path d="M2062.0 703.1H2087.2L2074.6 725.5Z" fill="#1421ff"/><path d="M2095.0 703.8H2120.2L2107.6 726.2Z" fill="#1421ff"/><path d="M2143.6 710.6H2168.8L2156.2 733.0Z" fill="#1421ff"/><path d="M2184.4 708.8H2209.6L2197.0 731.2Z" fill="#1421ff"/><path d="M2193.8 370.6H2219.0L2206.4 393.0Z" fill="#1421ff"/><path d="M2220.5 510.8H2245.7L2233.1 533.2Z" fill="#1421ff"/><path d="M2264.4 451.4H2289.6L2277.0 473.8Z" fill="#1421ff"/><path d="M2305.2 400.7H2330.4L2317.8 423.1Z" fill="#1421ff"/>
<rect x="1381.0" y="74.2" width="1020.0" height="822.2" fill="none" stroke="#262626" stroke-width="3.8"/>
<path d="M1459.5 896.4v16.5M1459.5 74.2v15M1616.4 896.4v16.5M1616.4 74.2v15M1773.3 896.4v16.5M1773.3 74.2v15M1930.2 896.4v16.5M1930.2 74.2v15M2087.2 896.4v16.5M2087.2 74.2v15M2244.1 896.4v16.5M2244.1 74.2v15M2401.0 896.4v16.5M2401.0 74.2v15M1381.0 896.4v10M1381.0 74.2v9M1538.0 896.4v10M1538.0 74.2v9M1694.9 896.4v10M1694.9 74.2v9M1851.8 896.4v10M1851.8 74.2v9M2008.7 896.4v10M2008.7 74.2v9M2165.6 896.4v10M2165.6 74.2v9M2322.5 896.4v10M2322.5 74.2v9M1381.0 181.4h-16.5M2401.0 181.4h-15M1381.0 324.4h-16.5M2401.0 324.4h-15M1381.0 467.4h-16.5M2401.0 467.4h-15M1381.0 610.4h-16.5M2401.0 610.4h-15M1381.0 753.4h-16.5M2401.0 753.4h-15M1381.0 896.4h-16.5M2401.0 896.4h-15M1381.0 109.9h-10M2401.0 109.9h-9M1381.0 252.9h-10M2401.0 252.9h-9M1381.0 395.9h-10M2401.0 395.9h-9M1381.0 538.9h-10M2401.0 538.9h-9M1381.0 681.9h-10M2401.0 681.9h-9M1381.0 824.9h-10M2401.0 824.9h-9" stroke="#262626" stroke-width="3.4" fill="none"/>
<text x="1459.5" y="958.2" font-size="43" text-anchor="middle">0</text>
<text x="1616.4" y="958.2" font-size="43" text-anchor="middle">100</text>
<text x="1773.3" y="958.2" font-size="43" text-anchor="middle">200</text>
<text x="1930.2" y="958.2" font-size="43" text-anchor="middle">300</text>
<text x="2087.2" y="958.2" font-size="43" text-anchor="middle">400</text>
<text x="2244.1" y="958.2" font-size="43" text-anchor="middle">500</text>
<text x="2401.0" y="958.2" font-size="43" text-anchor="middle">600</text>
<text x="1354.0" y="194.4" font-size="43" text-anchor="end">0</text>
<text x="1354.0" y="337.4" font-size="43" text-anchor="end">-20</text>
<text x="1354.0" y="480.4" font-size="43" text-anchor="end">-40</text>
<text x="1354.0" y="623.4" font-size="43" text-anchor="end">-60</text>
<text x="1354.0" y="766.4" font-size="43" text-anchor="end">-80</text>
<text x="1354.0" y="909.4" font-size="43" text-anchor="end">-100</text>
<text x="1892.0" y="1035.4" font-size="50" letter-spacing="0.45" text-anchor="middle">Soaking time at 60°C (days)</text>
<text transform="translate(1275.9 485.3) rotate(-90)" font-size="50" text-anchor="middle">Phase (degree)</text>
<rect x="2124.8" y="88.9" width="268.1" height="216.0" fill="#fff" stroke="#262626" stroke-width="3"/>
<path d="M2128.6 117.6h118" stroke="#000000" stroke-width="3.5" stroke-dasharray="8.5 9.3" fill="none"/>
<circle cx="2187.2" cy="117.6" r="10.6" fill="#000000"/>
<text x="2255.8" y="132.6" font-size="43">0.3 μm</text>
<path d="M2128.6 170.2h118" stroke="#2ca516" stroke-width="3.5" stroke-dasharray="8.5 9.3" fill="none"/>
<path d="M2174.6 181.2H2199.8L2187.2 158.8Z" fill="#2ca516"/>
<text x="2255.8" y="185.2" font-size="43">0.6 μm</text>
<path d="M2128.6 222.9h118" stroke="#ff0000" stroke-width="3.5" stroke-dasharray="8.5 9.3" fill="none"/>
<rect x="2177.0" y="212.7" width="20.4" height="20.4" fill="#ff0000"/>
<text x="2255.8" y="237.9" font-size="43">0.9 μm</text>
<path d="M2128.6 275.6h118" stroke="#1421ff" stroke-width="3.5" stroke-dasharray="8.5 9.3" fill="none"/>
<path d="M2174.6 264.6H2199.8L2187.2 286.9Z" fill="#1421ff"/>
<text x="2255.8" y="290.6" font-size="43">1.2 μm</text>
</g>
<text x="672.6" y="52.3" font-family="Liberation Serif, serif" font-size="54" text-anchor="middle" fill="#111">(<tspan font-weight="bold">a</tspan>)</text><text x="1863.1" y="52.3" font-family="Liberation Serif, serif" font-size="54" text-anchor="middle" fill="#111">(<tspan font-weight="bold">b</tspan>)</text><text x="673" y="1134.3" font-family="Liberation Serif, serif" font-size="54" text-anchor="middle" fill="#111">(<tspan font-weight="bold">c</tspan>)</text><text x="1893.2" y="1138.5" font-family="Liberation Serif, serif" font-size="54" text-anchor="middle" fill="#111">(<tspan font-weight="bold">d</tspan>)</text><text x="673" y="2006.2" font-family="Liberation Serif, serif" font-size="54" text-anchor="middle" fill="#111">(<tspan font-weight="bold">e</tspan>)</text><text x="1892.1" y="2011.6" font-family="Liberation Serif, serif" font-size="54" text-anchor="middle" fill="#111">(<tspan font-weight="bold">f</tspan>)</text>
</svg>
</body></html>
